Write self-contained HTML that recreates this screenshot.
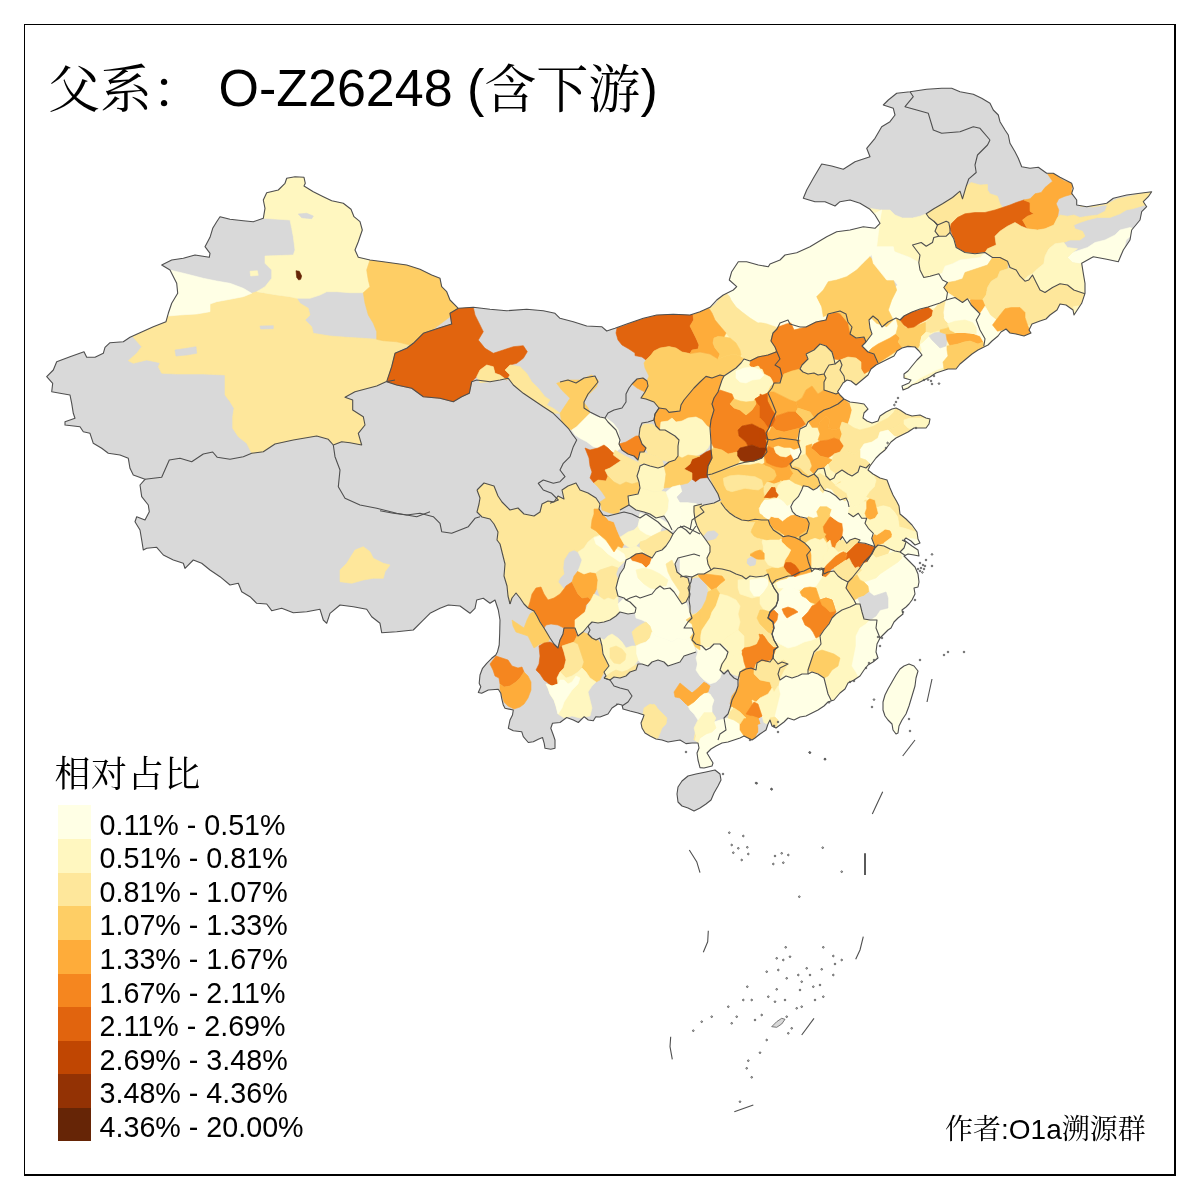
<!DOCTYPE html>
<html lang="zh"><head><meta charset="utf-8"><title>父系 O-Z26248</title>
<style>
html,body{margin:0;padding:0;background:#fff;}
body{width:1200px;height:1200px;position:relative;overflow:hidden;font-family:"Liberation Sans","Noto Serif CJK SC",sans-serif;color:#000;}
.frame{position:absolute;left:24px;top:24px;width:1149px;height:1149px;border-left:1px solid #000;border-top:1px solid #000;border-right:2px solid #000;border-bottom:2px solid #000;box-sizing:content-box;}
.title{position:absolute;left:48px;top:54px;font-size:52px;line-height:60px;white-space:pre;}
.title .cj{font-family:"Noto Serif CJK SC",serif;position:relative;top:2px;}
.lt{position:absolute;left:54.5px;top:750px;font-size:36px;letter-spacing:0.6px;line-height:44px;font-family:"Noto Serif CJK SC",serif;white-space:pre;}
.sw{position:absolute;left:58px;width:33px;}
.ll{position:absolute;left:99.5px;font-size:28.7px;margin-top:3.5px;line-height:33.6px;height:33.6px;white-space:pre;}
.au{position:absolute;left:945px;top:1107px;font-size:28px;line-height:40px;white-space:pre;}
.au .cj{font-family:"Noto Serif CJK SC",serif;}
</style></head><body>
<svg width="1200" height="1200" viewBox="0 0 1200 1200" style="position:absolute;left:0;top:0">
<defs><clipPath id="cn">
<polygon points="143.3,550 141.7,540 140,530 135,521.7 136.7,516.7 145,520 149.3,511.7 148.3,505 141.7,496.7 140,485 145,479.3 133.3,475 130,468.3 128.3,458.3 120,455 108.3,453.3 101.7,448.3 93.3,443.3 90,433.3 83.3,431.7 80,426.7 65,425 65,421.7 75,418.3 73.3,413.3 71.7,403.3 70,395 60,393.3 51.7,391.7 52.7,383.3 46.7,376.7 53.3,370 56.7,361.7 70,356.7 84,351.7 86.7,357.3 95,357.3 103.3,353.3 105,347.3 110,342.7 123.3,341.7 130,337.3 140,332.7 153.3,326.7 166,321.7 168.3,313.3 171.7,303.3 177.7,293.3 176.7,283.3 170,270 161.7,265 171.7,260 183.3,258.3 195,255 209.3,257.3 210,253.3 205,246.7 210,237.3 212.7,228.3 216.7,221.7 220,216.7 230,219.3 243.3,220.7 253.3,221.7 263.3,218.3 265,208.3 263.3,200 266.7,192.7 278.3,190 285,183.3 286.7,178.3 295,176.7 304,177.3 305.3,183.3 304,186 313.3,191.7 323.3,196.7 331.7,200.7 343.3,203.3 351,209.3 354,216.7 360,221.7 362.3,230 358.3,241.7 355,250 358.3,257.3 370,260 383.3,261.7 406.7,265 420,269.3 431.7,275 440,278.3 441.7,286.7 446.7,291.7 450,300 458.3,308.3 473.3,307.3 490,309.3 506.7,310.7 526.7,309.3 543.3,310.7 555,313.3 560,318.3 573.3,321.7 586.7,326 601.7,326.7 606.7,331 615,328.3 626.7,324 643.3,318.3 656.7,315 673.3,314.3 690,315 700,311.7 710,307.3 716.7,300 723.3,295 733.3,290 736.7,286.7 729.3,280 731.7,271.7 738.3,261.7 746.7,261.7 758.3,265 768.3,266.7 770,264 780,260 785,255 796.7,252.7 810,246.7 818.3,241.7 826.7,236.7 836.7,231.7 850,230 863.3,226.7 875,228.3 880,223.3 875,215 870,209.3 860,203.3 850,200 840,201.7 835,206 825,201.7 815,201.7 803.3,198.3 806.7,190 813.3,178.3 821.7,164 831.7,166 843.3,169.3 855,161.7 870,156.7 866.7,148.3 875,138.3 881.7,126.7 890,121.7 895,115 893.3,108.3 883.3,105 888.3,100 896.7,93.3 910,91.7 926.7,89.3 941.7,88.3 951.7,88.3 960,91.7 973.3,94.3 981.7,98.3 990,103.3 993.3,110 998.3,115 1000,121.7 1005,130 1008.3,135 1010,143.3 1015,151.7 1018.3,158.3 1021.7,166.7 1030,168.3 1038.3,167.3 1046.7,173.3 1053.3,173.3 1060,177.3 1071.7,183.3 1073.3,188.3 1071.7,193.3 1076.7,200 1076.7,205 1086.7,206.7 1106.7,203.3 1113.3,198.3 1126.7,195 1140,193.3 1151.7,191.7 1148.3,196.7 1143.3,201.7 1146.7,206.7 1141.7,211.7 1140,220 1131.7,230 1130,240 1123.3,250 1118.3,261.7 1106.7,259.3 1093.3,256.7 1081.7,263.3 1083.3,273.3 1085,283.3 1085,293.3 1081.7,303.3 1074,315 1073,310 1066,305 1060,304 1057,310 1050,315 1046,319 1040,321 1032,324 1029,330 1031,333 1024,336 1016,334 1010,333 1006,329 1001,332 998,336 992,341 988,345 984,347 978,350 972,354 966,359 960,364 956,369 948,369 942,371 936,373 930,377 924,380 918,383 912,385 908,388 903,390 902,386 909,383 911,380 904,378 904,374 908,371 912,366 917,360 922,355 919,351 915,347 908,346.4 902,348 897,351 894,356 888,359 882,362 876,365 871,369 868,375 862,380 856,385 851,381 847,380 843,383 840,388 837.6,391.6 840,395 844,399 850,402 858,403 864,404 868,409 864,413 863,418 867,421 872,423 878,421 880,416 886,412 892,409 896,408 900,410 906,414 912,416 920,415 926,418 930,419 929,424 926,428 920,428 914,428 908,432 902,435 896,438 891,442 888,446 885,450 880,454 876,458 873,462 870,466 868,470 873,474 880,478 887,480 890,488 893,495 897,502 899,506 900,514 906,519 912,525 917,532 918,539 920,543 915,545 911,541 906,538 904,540 912,546 918,550 919,556 914,555 908,554 904,556 909,561 915,567 918,574 919,582 918,587 914,588 915,594 912,600 909,604 906,607 902,610 903,614 898,618 894,622 891,628 888,630 884,634 880,638 877,644 876,652 878,658 873,662 868,665 864,670 860,676 854,680 848,683 845,689 840,693 834,700 828,702 824,706 818,710 812,713 806,716 800,717 794,720 788,718 784,722 780,725 776,728 772,726 770,720 768,724 766,730 760,734 755,738 752,740 748,738 744,736 740,738 734,740 728,742 722,743 716,746 711,749 707,753 710,758 713,763 712,766 704,768 700,767.6 698,760 697,753 699,748 698,743 692,743 686,743.6 680,740 674,741 668,742 662,740 656,739 650,736 645,733 642,728 641,723 643,718 644,715 638,713 630,711 623,709 622,705 618,704 612,708 608,714 600,717 595.8,716.7 593.3,720.8 588.3,720 584.2,716.7 578.3,722.5 573.3,720 566.7,717.5 560,722.5 552.5,723.3 550.8,728.3 553.3,735 555,740 555,748.3 550.8,749.2 545,748.3 544.2,743.3 542.5,737.5 538.3,739.2 533.3,741.7 528.3,742.5 523.3,736.7 521.7,731.7 513.3,730.8 508.3,728.3 510,720 512.5,715 513.3,710 505,708.3 503.3,705 501.7,698.3 500.8,693.3 498.3,689.2 488.3,690 481.7,693.3 478.3,692.5 480.8,686.7 479.2,683.3 480,675 482.5,668.3 486.7,663.3 491.7,658.3 495.8,655 497.5,651.7 499.2,645 499.7,633.3 500,620 498.3,610 495,600 490,603.3 483.3,598.3 476.7,600 475,608.3 470,613.3 460,606 448.3,605 440,608.3 430,613.3 421.7,621.7 413.3,630 396.7,631.7 381.7,632.7 380,623.3 371.7,616.7 366.7,609.3 353.3,606.7 340,605 330,613.3 326.7,623.3 323.3,620 320,609.3 306.7,611.7 293.3,612.7 281.7,608.3 271.7,610.7 266.7,604 256.7,603.3 250,596.7 241.7,591.7 238.3,583.3 230,585 220,576.7 210,570 201.7,563.3 193.3,560 185,568.3 183.3,563.3 173.3,560 163.3,555 156.7,547.3 146.7,548.3"/>
<polygon points="678,787 682,781 688,776 696,774 706,772 715,770 720,774 721,780 718,786 714,793 711,800 706,804 700,808 694,811 688,808 682,806 678,802 677,794"/>
<polygon points="909,664 914,666 918,671 916,678 915,686 912,696 909,706 906,714 902,720 899,726 898,733 896,734 893,730 892,724 888,720 885,716 883,710 883,702 885,695 888,689 892,682 896,675 900,669 904,666"/>
</clipPath></defs>
<g fill="#D9D9D9" stroke="none">
<polygon points="143.3,550 141.7,540 140,530 135,521.7 136.7,516.7 145,520 149.3,511.7 148.3,505 141.7,496.7 140,485 145,479.3 133.3,475 130,468.3 128.3,458.3 120,455 108.3,453.3 101.7,448.3 93.3,443.3 90,433.3 83.3,431.7 80,426.7 65,425 65,421.7 75,418.3 73.3,413.3 71.7,403.3 70,395 60,393.3 51.7,391.7 52.7,383.3 46.7,376.7 53.3,370 56.7,361.7 70,356.7 84,351.7 86.7,357.3 95,357.3 103.3,353.3 105,347.3 110,342.7 123.3,341.7 130,337.3 140,332.7 153.3,326.7 166,321.7 168.3,313.3 171.7,303.3 177.7,293.3 176.7,283.3 170,270 161.7,265 171.7,260 183.3,258.3 195,255 209.3,257.3 210,253.3 205,246.7 210,237.3 212.7,228.3 216.7,221.7 220,216.7 230,219.3 243.3,220.7 253.3,221.7 263.3,218.3 265,208.3 263.3,200 266.7,192.7 278.3,190 285,183.3 286.7,178.3 295,176.7 304,177.3 305.3,183.3 304,186 313.3,191.7 323.3,196.7 331.7,200.7 343.3,203.3 351,209.3 354,216.7 360,221.7 362.3,230 358.3,241.7 355,250 358.3,257.3 370,260 383.3,261.7 406.7,265 420,269.3 431.7,275 440,278.3 441.7,286.7 446.7,291.7 450,300 458.3,308.3 473.3,307.3 490,309.3 506.7,310.7 526.7,309.3 543.3,310.7 555,313.3 560,318.3 573.3,321.7 586.7,326 601.7,326.7 606.7,331 615,328.3 626.7,324 643.3,318.3 656.7,315 673.3,314.3 690,315 700,311.7 710,307.3 716.7,300 723.3,295 733.3,290 736.7,286.7 729.3,280 731.7,271.7 738.3,261.7 746.7,261.7 758.3,265 768.3,266.7 770,264 780,260 785,255 796.7,252.7 810,246.7 818.3,241.7 826.7,236.7 836.7,231.7 850,230 863.3,226.7 875,228.3 880,223.3 875,215 870,209.3 860,203.3 850,200 840,201.7 835,206 825,201.7 815,201.7 803.3,198.3 806.7,190 813.3,178.3 821.7,164 831.7,166 843.3,169.3 855,161.7 870,156.7 866.7,148.3 875,138.3 881.7,126.7 890,121.7 895,115 893.3,108.3 883.3,105 888.3,100 896.7,93.3 910,91.7 926.7,89.3 941.7,88.3 951.7,88.3 960,91.7 973.3,94.3 981.7,98.3 990,103.3 993.3,110 998.3,115 1000,121.7 1005,130 1008.3,135 1010,143.3 1015,151.7 1018.3,158.3 1021.7,166.7 1030,168.3 1038.3,167.3 1046.7,173.3 1053.3,173.3 1060,177.3 1071.7,183.3 1073.3,188.3 1071.7,193.3 1076.7,200 1076.7,205 1086.7,206.7 1106.7,203.3 1113.3,198.3 1126.7,195 1140,193.3 1151.7,191.7 1148.3,196.7 1143.3,201.7 1146.7,206.7 1141.7,211.7 1140,220 1131.7,230 1130,240 1123.3,250 1118.3,261.7 1106.7,259.3 1093.3,256.7 1081.7,263.3 1083.3,273.3 1085,283.3 1085,293.3 1081.7,303.3 1074,315 1073,310 1066,305 1060,304 1057,310 1050,315 1046,319 1040,321 1032,324 1029,330 1031,333 1024,336 1016,334 1010,333 1006,329 1001,332 998,336 992,341 988,345 984,347 978,350 972,354 966,359 960,364 956,369 948,369 942,371 936,373 930,377 924,380 918,383 912,385 908,388 903,390 902,386 909,383 911,380 904,378 904,374 908,371 912,366 917,360 922,355 919,351 915,347 908,346.4 902,348 897,351 894,356 888,359 882,362 876,365 871,369 868,375 862,380 856,385 851,381 847,380 843,383 840,388 837.6,391.6 840,395 844,399 850,402 858,403 864,404 868,409 864,413 863,418 867,421 872,423 878,421 880,416 886,412 892,409 896,408 900,410 906,414 912,416 920,415 926,418 930,419 929,424 926,428 920,428 914,428 908,432 902,435 896,438 891,442 888,446 885,450 880,454 876,458 873,462 870,466 868,470 873,474 880,478 887,480 890,488 893,495 897,502 899,506 900,514 906,519 912,525 917,532 918,539 920,543 915,545 911,541 906,538 904,540 912,546 918,550 919,556 914,555 908,554 904,556 909,561 915,567 918,574 919,582 918,587 914,588 915,594 912,600 909,604 906,607 902,610 903,614 898,618 894,622 891,628 888,630 884,634 880,638 877,644 876,652 878,658 873,662 868,665 864,670 860,676 854,680 848,683 845,689 840,693 834,700 828,702 824,706 818,710 812,713 806,716 800,717 794,720 788,718 784,722 780,725 776,728 772,726 770,720 768,724 766,730 760,734 755,738 752,740 748,738 744,736 740,738 734,740 728,742 722,743 716,746 711,749 707,753 710,758 713,763 712,766 704,768 700,767.6 698,760 697,753 699,748 698,743 692,743 686,743.6 680,740 674,741 668,742 662,740 656,739 650,736 645,733 642,728 641,723 643,718 644,715 638,713 630,711 623,709 622,705 618,704 612,708 608,714 600,717 595.8,716.7 593.3,720.8 588.3,720 584.2,716.7 578.3,722.5 573.3,720 566.7,717.5 560,722.5 552.5,723.3 550.8,728.3 553.3,735 555,740 555,748.3 550.8,749.2 545,748.3 544.2,743.3 542.5,737.5 538.3,739.2 533.3,741.7 528.3,742.5 523.3,736.7 521.7,731.7 513.3,730.8 508.3,728.3 510,720 512.5,715 513.3,710 505,708.3 503.3,705 501.7,698.3 500.8,693.3 498.3,689.2 488.3,690 481.7,693.3 478.3,692.5 480.8,686.7 479.2,683.3 480,675 482.5,668.3 486.7,663.3 491.7,658.3 495.8,655 497.5,651.7 499.2,645 499.7,633.3 500,620 498.3,610 495,600 490,603.3 483.3,598.3 476.7,600 475,608.3 470,613.3 460,606 448.3,605 440,608.3 430,613.3 421.7,621.7 413.3,630 396.7,631.7 381.7,632.7 380,623.3 371.7,616.7 366.7,609.3 353.3,606.7 340,605 330,613.3 326.7,623.3 323.3,620 320,609.3 306.7,611.7 293.3,612.7 281.7,608.3 271.7,610.7 266.7,604 256.7,603.3 250,596.7 241.7,591.7 238.3,583.3 230,585 220,576.7 210,570 201.7,563.3 193.3,560 185,568.3 183.3,563.3 173.3,560 163.3,555 156.7,547.3 146.7,548.3"/>
<polygon points="678,787 682,781 688,776 696,774 706,772 715,770 720,774 721,780 718,786 714,793 711,800 706,804 700,808 694,811 688,808 682,806 678,802 677,794"/>
<polygon points="909,664 914,666 918,671 916,678 915,686 912,696 909,706 906,714 902,720 899,726 898,733 896,734 893,730 892,724 888,720 885,716 883,710 883,702 885,695 888,689 892,682 896,675 900,669 904,666"/>
</g>
<g clip-path="url(#cn)" stroke="none">
<polygon fill="#FFF7C0" stroke="#FFF7C0" stroke-width="0.6" points="715,340 760,300 1100,300 1100,420 930,560 930,600 870,600 850,520 790,520 780,505 725,505 718,480 710,440 712,400"/>
<polygon fill="#FFFFE5" stroke="#FFFFE5" stroke-width="0.6" points="909,664 914,666 918,671 916,678 915,686 912,696 909,706 906,714 902,720 899,726 898,733 896,734 893,730 892,724 888,720 885,716 883,710 883,702 885,695 888,689 892,682 896,675 900,669 904,666"/>
<polygon fill="#FEE79B" stroke="#FEE79B" stroke-width="0.6" points="168.3,316 180,315 196.7,314 210,311.7 210,304 216.7,301.7 230,299.3 243.3,296.7 251.7,293.3 256.7,291.7 263.3,292.7 276.7,295 290,296.7 296.7,298.3 300,303.3 308.3,308.3 310,315 305,320 311.7,326.7 313.3,333.3 330,336 346.7,337.3 363.3,338.3 376.7,339.3 383.3,340.7 396.7,341.7 410,345 396.7,351.7 393.3,363.3 390,373.3 386,381.7 376.7,386 355,391.7 345,397.3 352.7,400 352.7,410 363.3,416.7 365,425 358.3,433.3 361.7,445 350,442.7 341.7,441.7 333.3,445 328.3,439.3 316.7,436 293.3,440 275,444 263.3,451.7 251.7,453.3 246.7,443.3 238.3,436.7 232.7,428.3 232.7,416.7 234,408.3 230,401.7 225,395 225,375 203.3,374 176.7,374 161.7,373.3 158.3,366.7 160,362.7 146.7,360 133.3,363.3 128.3,360.7 136.7,353.3 141.7,346.7 133.3,337.3 130,330 153.3,320 163.3,316.7"/>
<polygon fill="#D9D9D9" stroke="#D9D9D9" stroke-width="0.6" points="175,350 186.7,348.3 196,346.7 196.7,353.3 186.7,355 176,356"/>
<polygon fill="#D9D9D9" stroke="#D9D9D9" stroke-width="0.6" points="260,326 273.3,325.7 273.3,328.7 260.7,329"/>
<polygon fill="#FFF7C0" stroke="#FFF7C0" stroke-width="0.6" points="286.7,173.3 306.7,173.3 363.3,216.7 366.7,230 360,250 370,260 366.7,270 368.3,280 370,286.7 363.3,292.7 350,292.7 336.7,291.7 326.7,291.7 320,295 310,298.3 296.7,298.3 290,296.7 276.7,295 263.3,292.7 256.7,291.7 265,286.7 271.7,278.3 271.7,270 265,263.3 265,256 293.3,255 295,250 293.3,236.7 291.7,228.3 290,220 263.3,218.3 260,200 263.3,190"/>
<polygon fill="#D9D9D9" stroke="#D9D9D9" stroke-width="0.6" points="298.3,214 306.7,213.3 313.3,216 311.7,218.7 301.7,217.7"/>
<polygon fill="#662506" stroke="#662506" stroke-width="0.6" points="296,270.7 299.3,271.3 301.7,276 300.7,279.3 298.7,280 296.7,277.3"/>
<polygon fill="#FFF7C0" stroke="#FFF7C0" stroke-width="0.6" points="250,271.3 257.3,270.7 258.3,275.3 250.7,276"/>
<polygon fill="#FFFFE5" stroke="#FFFFE5" stroke-width="0.6" points="156.7,266.7 170,270 186.7,274 203.3,278.3 216.7,281 230,283.3 243.3,288.3 251.7,293.3 243.3,296.7 230,299.3 216.7,301.7 210,304 210,311.7 196.7,314 180,315 168.3,316 156.7,323.3"/>
<polygon fill="#FECE65" stroke="#FECE65" stroke-width="0.6" points="370,260 366.7,270 368.3,280 370,286.7 363.3,292.7 365,303.3 368.3,315 373.3,323.3 376.7,331.7 376.7,339.3 383.3,340.7 396.7,341.7 410,345 418.3,338.3 430,331.7 450,316.7 463.3,310 473.3,300 473.3,250 396.7,250"/>
<polygon fill="#E1640E" stroke="#E1640E" stroke-width="0.6" points="458.3,308.3 473.3,307.3 475,315 480,325 483.3,331.7 478.3,340 485,348.3 493.3,353.3 503.3,350 513.3,346.7 523.3,345.7 527.3,351.7 523.3,358.3 516.7,363.3 510,365 505,370 510,375 506.7,380 500,375 495,373.3 493.3,366.7 486.7,365 480,370 476.7,376.7 471.7,381.7 469.3,393.3 461.7,396.7 453.3,401.7 440,398.3 423.3,396.7 411.7,388.3 396.7,385 386.7,381.7 391.7,366.7 395,353.3 406.7,348.3 413.3,343.3 423.3,333.3 438.3,328.3 451.7,324 450,313.3"/>
<polygon fill="#FEE79B" stroke="#FEE79B" stroke-width="0.6" points="476.7,376.7 480,370 486.7,365 493.3,366.7 495,373.3 500,375 506.7,380 510,375 505,370 510,365 520,366.7 526.7,373.3 531.7,381.7 538.3,388.3 545,396.7 550,400 546.7,405 553.3,408.3 560,413.3 553.3,413.3 543.3,406.7 533.3,400 523.3,393.3 513.3,385 508.3,378.3 500,380 490,381.7 480,382.7"/>
<polygon fill="#FECE65" stroke="#FECE65" stroke-width="0.6" points="556.7,383.3 566.7,380 580,380 591.7,375 598.3,380 596.7,386.7 588.3,395 583.3,401.7 588.3,408.3 590,413.3 583.3,420 576.7,426.7 571.7,430 568.3,428.3 561.7,421.7 560,413.3 566.7,403.3 570,398.3 561.7,390"/>
<polygon fill="#FFFFE5" stroke="#FFFFE5" stroke-width="0.6" points="571.7,430 576.7,426.7 583.3,420 590,413.3 596.7,416.7 606.7,418.3 613.3,423.3 618.3,430 620,440 620.7,448.3 613.3,453.3 606.7,446.7 600,448.3 593.3,446.7 586.7,441.7 580,438.3 575,435"/>
<polygon fill="#FFFFE5" stroke="#FFFFE5" stroke-width="0.6" points="728,293 734,290 800,290 800,327 790,324 788,320 780,320 776,320 766,322 758,323 750,318 742,312 736,307 731,300"/>
<polygon fill="#FEE79B" stroke="#FEE79B" stroke-width="0.6" points="709,308.4 715,304.4 720,298 728,293 731,300 736,307 742,312 750,318 758,323 766,322 776,320 780,323 777,329 773,333 771,341 775,347 776,352 768,355 758,357 750,361 744,359 741,355 740,350 736,343 730,338 726,333 720,326 715,320 712,313"/>
<polygon fill="#E1640E" stroke="#E1640E" stroke-width="0.6" points="617,328 626,325 636,321 646,318 658,315 670,314.4 682,314 693,314.4 693.6,320 690,326 693,332 696,338 699,345 698,349 692,350 690,353.6 682,352 676,348 669,346.6 660,348 654,351 651,355 646,360 642,357 635,355.6 635,353 629,349 622,345 618,340 616,333"/>
<polygon fill="#FECE65" stroke="#FECE65" stroke-width="0.6" points="646,360 651,355 654,351 660,348 669,346.6 676,348 682,352 690,353.6 700,352 710,354 718,359 726,356 734,354 740,356 744,359 741,363 736,368 730,372 724,376 720,375 712,378 706,376.4 700,382 694,388 689,394 684,400 681,405 680,411 669,412.4 666,409 659,408 654,402 646,399 641,398 645,392 648,386 647,381 649,376 645,368 644,363"/>
<polygon fill="#FEAC3A" stroke="#FEAC3A" stroke-width="0.6" points="724,376 720,375 712,378 706,376.4 700,382 694,388 689,394 684,400 681,405 680,411 669,412.4 666,409 659,408 655,414 654,420 656,426 660,430 661,422 668,421 672,418 676,422 682,421 688,418 696,417 702,420 707,426 710,428 711,420 714,410 712,404 714,398 718,392 720,386 722,380"/>
<polygon fill="#FEAC3A" stroke="#FEAC3A" stroke-width="0.6" points="693,314.4 700,311 709,308.4 712,313 715,320 720,326 726,333 724,337 718,336.4 714,338 713,343 715,348 720,354 718,359 710,354 700,352 690,353.6 692,350 698,349 699,345 696,338 693,332 690,326 693.6,320"/>
<polygon fill="#FECE65" stroke="#FECE65" stroke-width="0.6" points="714,338 718,336.4 724,337 730,338 736,343 740,350 741,355 740,356 734,354 726,356 718,359 720,354 715,348 713,343"/>
<polygon fill="#F5861F" stroke="#F5861F" stroke-width="0.6" points="780,323 788,320 790,324 800,327 800,370 792,371 784,373 780,368 775,365 780,359 777,352 775,347 771,341 773,333 777,329"/>
<polygon fill="#F5861F" stroke="#F5861F" stroke-width="0.6" points="750,361 758,357 768,355 776,352 777,352 780,359 775,365 780,368 782,376 780,383 774,383 770,377 764,374 762,369 758,366 752,368 749,365"/>
<polygon fill="#FFF7C0" stroke="#FFF7C0" stroke-width="0.6" points="744,359 750,361 749,365 752,368 758,366 762,369 764,374 770,377 774,383 772,388 768,393 760,396 754,401 746,402 740,401 734,399 732,394 726,392 720,390 722,380 724,376 730,372 736,368 741,363"/>
<polygon fill="#FFFFE5" stroke="#FFFFE5" stroke-width="0.6" points="736,371 744,368 752,367 760,370 764,375 760,379 752,380 746,383 740,382 736,378"/>
<polygon fill="#F5861F" stroke="#F5861F" stroke-width="0.6" points="720,390 726,392 732,394 734,399 730,404 734,408 740,410 746,415 752,410 756,404 755,399 760,396 768,393 772,402 776,412 772,420 769,428 766,433 760,428 752,424 742,426 738,430 739,436 746,442 748,446 740,448 737,452 728,454 722,450 714,448 711,442 710,428 711,420 714,410 712,404 714,398 718,392"/>
<polygon fill="#FECE65" stroke="#FECE65" stroke-width="0.6" points="734,399 740,401 746,402 754,401 755,399 756,404 752,410 746,415 740,410 734,408 730,404"/>
<polygon fill="#E1640E" stroke="#E1640E" stroke-width="0.6" points="760,396 764,395 768,393 772,402 774,410 768,412 762,408 758,404 755,399"/>
<polygon fill="#C04602" stroke="#C04602" stroke-width="0.6" points="738,430 742,426 752,424 760,428 766,433 768,440 766,447 760,448 752,445 748,446 746,442 739,436"/>
<polygon fill="#933204" stroke="#933204" stroke-width="0.6" points="737,452 740,448 748,446 752,445 760,448 766,447 767,452 762,458 754,461 746,462 740,460 737,456"/>
<polygon fill="#FECE65" stroke="#FECE65" stroke-width="0.6" points="711,450 714,448 722,450 728,454 737,452 737,456 740,460 738,464 730,467 720,471 712,474 707,475 708,466 712,458"/>
<polygon fill="#FFF7C0" stroke="#FFF7C0" stroke-width="0.6" points="661,422 668,421 672,418 676,422 682,421 688,418 696,417 702,420 707,426 710,428 711,442 708,448 704,452 696,456 688,455 682,458 678,456 678,446 679,440 675,436 670,433 665,430 660,430"/>
<polygon fill="#C04602" stroke="#C04602" stroke-width="0.6" points="711,450 712,458 708,466 707,475 708,478 700,479 696,482 692,479 692,473 684,469 690,464 692,459 700,456 706,452"/>
<polygon fill="#FEE79B" stroke="#FEE79B" stroke-width="0.6" points="640,428 644,424 652,424 660,430 665,430 670,433 675,436 679,440 678,446 678,456 675,460 669,462 662,460 656,456 648,454 646,448 642,444 639,436"/>
<polygon fill="#F5861F" stroke="#F5861F" stroke-width="0.6" points="619,444 626,442 636,436 639,436 642,444 646,448 644,452 640,452 638,460 634,456 628,454 622,450"/>
<polygon fill="#E1640E" stroke="#E1640E" stroke-width="0.6" points="585,448 590,450 598,448 604,445 608,448 612,452 618,456 622,460 616,464 610,468 605,470 608,476 606,481 598,480 594,483 590,478 592,472 590,466 589,458"/>
<polygon fill="#FEAC3A" stroke="#FEAC3A" stroke-width="0.6" points="632,384 637,379 643,378 647,381 648,386 645,392 641,390 637,388"/>
<polygon fill="#FEE79B" stroke="#FEE79B" stroke-width="0.6" points="610,468 616,464 622,460 628,462 634,464 640,464 639,470 637,476 639,482 632,484 626,482 620,485 614,482 608,476 605,470"/>
<polygon fill="#FECE65" stroke="#FECE65" stroke-width="0.6" points="594,483 598,480 606,481 608,476 614,482 620,485 626,482 632,484 639,482 640,488 638,494 628,496 629,505 620,510 618,514 610,513 602,510 600,502 606,498 602,492 598,487"/>
<polygon fill="#FEE79B" stroke="#FEE79B" stroke-width="0.6" points="640,452 644,452 648,454 656,456 662,460 664,466 658,468 650,466 644,464 640,464 638,460"/>
<polygon fill="#FFF7C0" stroke="#FFF7C0" stroke-width="0.6" points="640,466 644,464 650,466 658,468 664,466 666,474 665,482 664,488 661,491 654,492 648,490 640,488 639,482 637,476 639,470"/>
<polygon fill="#FECE65" stroke="#FECE65" stroke-width="0.6" points="664,466 669,462 675,460 678,456 682,458 688,455 696,456 700,456 692,459 690,464 684,469 692,473 692,479 688,483 680,485 672,487 664,488 665,482 666,474"/>
<polygon fill="#FFF7C0" stroke="#FFF7C0" stroke-width="0.6" points="628,496 638,494 640,488 648,490 654,492 661,491 666,492 669,500 668,510 664,516 656,518 650,514 644,512 636,510 629,505"/>
<polygon fill="#FFFFE5" stroke="#FFFFE5" stroke-width="0.6" points="666,492 672,487 680,485 682,492 677,497 680,502 688,502 696,503 700,507 704,512 698,516 692,520 690,530 672,530 668,522 664,516 668,510 669,500"/>
<polygon fill="#FFFFE5" stroke="#FFFFE5" stroke-width="0.6" points="760,290 826,290 816,296 818,302 822,308 828,314 826,320 816,322 806,327 794,330 790,321 780,324 772,320 760,321"/>
<polygon fill="#F5861F" stroke="#F5861F" stroke-width="0.6" points="772,336 780,324 790,321 794,330 806,327 816,322 826,320 828,314 840,311 846,314 848,322 852,327 850,334 856,338 864,337 866,342 862,346 868,352 874,354 878,363 874,367 869,371 864,374 861,369 861,362 856,358 848,357 840,360 834,359 832,352 826,346 820,344 814,350 806,354 808,359 802,365 800,369 792,371 784,374 780,382 774,384 771,374 766,370 760,368 760,358 768,356 774,354 778,348 774,342"/>
<polygon fill="#FEE79B" stroke="#FEE79B" stroke-width="0.6" points="806,354 814,350 820,344 826,346 832,352 834,359 835,364 829,365 826,370 824,374 818,375 814,373 808,374 803,372 800,369 802,365 808,359"/>
<polygon fill="#FEE79B" stroke="#FEE79B" stroke-width="0.6" points="835,364 840,360 842,365 840,370 844,376 845,382 840,388 840,392 836,394 830,392 824,390 824,382 826,378 824,374 826,370 829,365"/>
<polygon fill="#FEE79B" stroke="#FEE79B" stroke-width="0.6" points="840,360 848,357 856,358 861,362 861,369 864,374 868,376 864,380 858,383 854,386 850,381 845,382 844,376 840,370 842,365"/>
<polygon fill="#FECE65" stroke="#FECE65" stroke-width="0.6" points="816,296 826,290 892,290 890,298 888,306 892,312 896,318 890,320 884,324 878,320 873,316 869,320 870,328 872,334 866,342 864,337 856,338 850,334 852,327 848,322 846,314 840,311 828,314 822,308 818,302"/>
<polygon fill="#FFFFE5" stroke="#FFFFE5" stroke-width="0.6" points="892,290 948,290 948,296 940,302 934,308 928,307 920,309 912,312 904,316 900,320 896,318 892,312 888,306 890,298"/>
<polygon fill="#FFFFE5" stroke="#FFFFE5" stroke-width="0.6" points="869,320 873,316 878,320 882,327 888,322 896,318 900,320 898,326 896,334 890,338 884,341 878,344 872,348 868,352 862,346 866,342 872,334 870,328"/>
<polygon fill="#FEAC3A" stroke="#FEAC3A" stroke-width="0.6" points="872,348 878,344 884,341 890,338 896,334 900,338 898,342 902,347 898,350 892,354 886,358 880,362 878,363 874,354 868,352"/>
<polygon fill="#FECE65" stroke="#FECE65" stroke-width="0.6" points="896,318 900,320 906,328 916,326 926,322 926,332 922,336 920,344 918,348 914,347 908,346 902,347 898,342 900,338 896,334 898,326"/>
<polygon fill="#E1640E" stroke="#E1640E" stroke-width="0.6" points="900,320 904,316 912,312 920,309 928,307 933,311 932,316 926,320 920,323 914,327 908,328 904,325"/>
<polygon fill="#FEE79B" stroke="#FEE79B" stroke-width="0.6" points="933,311 940,302 948,296 949,302 946,310 944,318 950,322 948,328 940,330 930,333 926,332 926,322 932,316"/>
<polygon fill="#FFFFE5" stroke="#FFFFE5" stroke-width="0.6" points="948,296 968,300 972,308 976,316 972,322 964,330 956,326 950,322 944,318 946,310 949,302"/>
<polygon fill="#FFFFE5" stroke="#FFFFE5" stroke-width="0.6" points="920,344 922,336 929,336 932,340 936,344 940,348 946,346 947,350 948,356 943,362 944,367 936,370 928,374 920,378 912,384 900,390 900,384 908,378 904,374 910,368 916,362 920,356 922,350"/>
<polygon fill="#FFF7C0" stroke="#FFF7C0" stroke-width="0.6" points="922,336 926,332 930,333 929,336 926,339 923,342 920,344"/>
<polygon fill="#D9D9D9" stroke="#D9D9D9" stroke-width="0.6" points="929,336 934,333 940,332 946,334 947,340 946,346 940,348 936,344 932,340"/>
<polygon fill="#FEAC3A" stroke="#FEAC3A" stroke-width="0.6" points="948,334 956,333 964,330 972,333 980,336 983,342 978,344 970,341 964,342 958,344 950,346 947,340 946,334"/>
<polygon fill="#FECE65" stroke="#FECE65" stroke-width="0.6" points="940,330 948,328 950,322 956,326 964,330 956,333 948,334 946,334 940,332"/>
<polygon fill="#FECE65" stroke="#FECE65" stroke-width="0.6" points="947,346 958,344 964,342 970,341 978,344 983,342 986,348 976,356 968,360 960,366 952,370 944,369 943,362 948,356 947,350"/>
<polygon fill="#FFFFE5" stroke="#FFFFE5" stroke-width="0.6" points="972,308 968,300 970,290 984,290 1000,310 1000,340 985,344 980,336 972,333 964,330 972,322 976,316"/>
<polygon fill="#FEAC3A" stroke="#FEAC3A" stroke-width="0.6" points="970,298 978,297 984,302 986,310 980,314 976,308"/>
<polygon fill="#FECE65" stroke="#FECE65" stroke-width="0.6" points="784,374 792,371 800,369 803,372 808,374 814,373 818,375 824,374 826,378 824,382 824,390 818,394 812,386 806,390 802,398 796,402 790,400 782,396 774,392 768,392 771,386 774,384 780,382"/>
<polygon fill="#FEAC3A" stroke="#FEAC3A" stroke-width="0.6" points="812,386 818,394 824,390 830,392 836,394 840,392 844,399 838,404 830,408 824,410 818,414 814,418 810,412 804,410 798,408 796,402 802,398 806,390"/>
<polygon fill="#FEAC3A" stroke="#FEAC3A" stroke-width="0.6" points="768,392 774,392 782,396 790,400 796,402 798,408 796,412 788,412 782,414 776,416 772,410 768,402"/>
<polygon fill="#F5861F" stroke="#F5861F" stroke-width="0.6" points="776,416 782,414 788,412 796,412 802,418 806,424 800,428 792,430 784,432 776,430 772,426 775,420"/>
<polygon fill="#FEAC3A" stroke="#FEAC3A" stroke-width="0.6" points="768,434 772,426 776,430 784,432 792,430 800,428 799,434 796,440 788,439 780,438 772,440 766,439"/>
<polygon fill="#FECE65" stroke="#FECE65" stroke-width="0.6" points="798,408 804,410 810,412 814,418 808,422 806,424 802,418 796,412"/>
<polygon fill="#E1640E" stroke="#E1640E" stroke-width="0.6" points="760,394 764,396 768,402 772,410 775,414 775,420 772,426 768,428 764,422 760,418"/>
<polygon fill="#F5861F" stroke="#F5861F" stroke-width="0.6" points="760,418 764,422 768,428 768,434 766,439 764,430 760,428"/>
<polygon fill="#C04602" stroke="#C04602" stroke-width="0.6" points="760,428 764,430 767,438 768,444 764,448 760,448"/>
<polygon fill="#933204" stroke="#933204" stroke-width="0.6" points="760,448 764,448 766,452 764,456 760,457"/>
<polygon fill="#FEAC3A" stroke="#FEAC3A" stroke-width="0.6" points="818,414 824,410 830,408 838,404 844,399 850,404 852,410 850,418 848,424 842,422 840,428 834,430 828,428 830,420 826,416 820,422 818,428 812,428 808,422 814,418"/>
<polygon fill="#FFF7C0" stroke="#FFF7C0" stroke-width="0.6" points="800,429 806,426 808,422 812,428 818,428 820,434 818,440 812,444 806,446 800,448 798,442 799,434"/>
<polygon fill="#FEAC3A" stroke="#FEAC3A" stroke-width="0.6" points="820,422 826,416 830,420 828,428 834,430 840,428 842,434 840,440 834,438 828,440 820,441 818,440 820,434 818,428"/>
<polygon fill="#F5861F" stroke="#F5861F" stroke-width="0.6" points="814,444 820,441 828,440 834,438 840,440 844,446 840,452 834,454 828,458 820,456 816,452 811,448"/>
<polygon fill="#FFF7C0" stroke="#FFF7C0" stroke-width="0.6" points="850,404 856,402 862,404 868,408 869,412 864,414 862,418 868,422 872,424 868,428 860,430 854,428 848,424 850,418 852,410"/>
<polygon fill="#FEE79B" stroke="#FEE79B" stroke-width="0.6" points="840,428 842,422 848,424 854,428 860,430 868,428 874,426 880,422 888,418 894,412 900,414 904,420 900,424 894,428 888,430 880,432 878,438 872,442 864,444 860,450 854,454 848,452 844,446 840,440 842,434"/>
<polygon fill="#FEE79B" stroke="#FEE79B" stroke-width="0.6" points="894,412 896,408 904,411 912,415 920,416 930,418 929,424 926,428 920,427 914,430 908,432 904,436 900,438 894,436 888,430 894,428 900,424 904,420 900,414"/>
<polygon fill="#FFF7C0" stroke="#FFF7C0" stroke-width="0.6" points="904,420 910,418 920,418 930,418 929,424 926,428 920,427 914,430 908,428 904,424"/>
<polygon fill="#FFFFE5" stroke="#FFFFE5" stroke-width="0.6" points="878,438 880,432 888,430 894,436 900,438 896,444 890,448 884,448 880,454 876,458 870,464 866,460 860,458 860,450 864,444 872,442"/>
<polygon fill="#FEE79B" stroke="#FEE79B" stroke-width="0.6" points="840,452 844,446 848,452 854,454 860,450 860,458 866,460 870,464 866,468 860,466 858,472 852,476 848,474 842,470 836,474 830,470 828,464 832,460 834,454"/>
<polygon fill="#FEE79B" stroke="#FEE79B" stroke-width="0.6" points="790,464 794,460 798,458 800,456 806,454 810,460 812,466 810,470 814,474 808,477 802,474 798,470 792,468"/>
<polygon fill="#FEAC3A" stroke="#FEAC3A" stroke-width="0.6" points="806,454 806,446 812,444 811,448 816,452 820,456 828,458 832,460 828,464 824,468 818,469 814,474 810,470 812,466 810,460"/>
<polygon fill="#FFF7C0" stroke="#FFF7C0" stroke-width="0.6" points="824,468 828,464 830,470 836,474 834,478 830,480 826,476"/>
<polygon fill="#FEAC3A" stroke="#FEAC3A" stroke-width="0.6" points="766,439 772,440 780,438 788,439 796,440 800,440 799,444 800,448 794,450 790,448 786,450 782,448 776,446 772,448 768,446"/>
<polygon fill="#F5861F" stroke="#F5861F" stroke-width="0.6" points="764,456 768,446 772,448 774,448 776,453 780,456 786,457 791,454 794,460 790,464 784,466 778,468 772,466 766,462"/>
<polygon fill="#FFF7C0" stroke="#FFF7C0" stroke-width="0.6" points="774,448 778,446 784,448 790,448 791,454 786,457 780,456 776,453"/>
<polygon fill="#FFFFE5" stroke="#FFFFE5" stroke-width="0.6" points="790,448 794,450 800,448 801,452 798,458 794,460 791,454"/>
<polygon fill="#FEAC3A" stroke="#FEAC3A" stroke-width="0.6" points="778,468 784,466 790,464 792,468 798,470 802,474 800,480 794,482 788,480 782,478 778,474"/>
<polygon fill="#FEAC3A" stroke="#FEAC3A" stroke-width="0.6" points="760,466 766,462 772,466 778,468 778,474 782,478 780,482 774,484 768,482 760,480"/>
<polygon fill="#FECE65" stroke="#FECE65" stroke-width="0.6" points="800,480 802,474 808,477 814,474 818,478 820,484 816,488 810,490 804,488 800,485"/>
<polygon fill="#FEE79B" stroke="#FEE79B" stroke-width="0.6" points="760,480 768,482 774,484 780,482 782,478 788,480 794,482 800,480 800,485 803,488 800,494 796,502 790,506 784,510 778,512 772,516 760,516"/>
<polygon fill="#FFF7C0" stroke="#FFF7C0" stroke-width="0.6" points="782,482 788,480 794,482 800,480 800,485 803,488 800,494 796,502 790,506 784,508 780,502 782,494 780,488"/>
<polygon fill="#E1640E" stroke="#E1640E" stroke-width="0.6" points="772,487 775,490 777,494 779,497 774,497 770,498 765,497 768,493 770,490"/>
<polygon fill="#FEAC3A" stroke="#FEAC3A" stroke-width="0.6" points="772,516 778,512 784,510 790,506 794,512 798,516 802,514 808,516 808,524 810,530 760,530 760,516"/>
<polygon fill="#FFFFE5" stroke="#FFFFE5" stroke-width="0.6" points="790,506 796,502 800,494 803,488 804,488 810,490 816,488 820,484 824,490 830,492 836,496 840,500 846,498 848,502 850,508 846,510 840,512 834,510 828,512 820,510 814,514 808,516 802,514 798,516 794,512"/>
<polygon fill="#FFF7C0" stroke="#FFF7C0" stroke-width="0.6" points="820,484 818,478 814,474 818,469 824,468 826,476 830,480 834,478 836,474 842,470 848,474 846,484 840,482 832,488 826,486 824,490"/>
<polygon fill="#FECE65" stroke="#FECE65" stroke-width="0.6" points="826,486 832,488 840,482 846,484 850,490 848,492 846,498 840,500 836,496 830,492 824,490"/>
<polygon fill="#FFF7C0" stroke="#FFF7C0" stroke-width="0.6" points="848,474 852,476 858,472 860,466 866,468 872,470 880,476 884,480 878,482 872,486 866,490 860,488 856,492 850,490 846,484"/>
<polygon fill="#FEE79B" stroke="#FEE79B" stroke-width="0.6" points="878,482 884,480 888,488 892,496 896,504 900,512 904,520 908,526 910,530 884,530 880,520 882,510 878,502 874,498 872,490 872,486"/>
<polygon fill="#FFF7C0" stroke="#FFF7C0" stroke-width="0.6" points="850,490 856,492 860,488 866,490 872,486 872,490 874,498 878,502 872,508 866,510 864,516 858,518 854,512 850,508 848,502 846,498 848,492"/>
<polygon fill="#FECE65" stroke="#FECE65" stroke-width="0.6" points="872,508 878,502 882,510 880,520 884,530 868,530 866,522 869,516 866,510"/>
<polygon fill="#FEAC3A" stroke="#FEAC3A" stroke-width="0.6" points="828,516 834,510 840,512 844,518 842,526 840,530 830,530 828,522"/>
<polygon fill="#FFF7C0" stroke="#FFF7C0" stroke-width="0.6" points="850,508 854,512 858,518 864,516 866,522 868,530 844,530 844,518 846,510"/>
<polygon fill="#FFF7C0" stroke="#FFF7C0" stroke-width="0.6" points="808,516 814,514 820,510 828,512 828,522 830,530 810,530 808,524"/>
<polygon fill="#FFF7C0" stroke="#FFF7C0" stroke-width="0.6" points="880,210 890,210 895,215 902.5,218 912.5,218 920,216.2 926.2,213.8 928.8,217.5 933.8,221.2 937.5,225 935,231.2 938.8,236.2 933.8,237.5 932.5,242.5 926.2,246.2 921.2,242.5 912.5,245 916.2,250 920,255 918.8,262.5 910,257.5 900,253.8 890,250 880,247.5 865,245 865,207.5"/>
<polygon fill="#FFFFE5" stroke="#FFFFE5" stroke-width="0.6" points="880,247.5 890,250 900,253.8 910,257.5 918.8,262.5 920,270 923.8,277.5 930,276.2 938.8,273.8 942.5,272.5 942.5,280 947.5,282.5 943.8,287.5 947.5,292.5 946.2,300 938.8,303.8 932.5,305 925,307.5 917.5,310 907.5,312.5 900,317.5 890,320 880,325 880,290 890,300 892.5,290 897.5,285 890,275 885,265 880,262.5"/>
<polygon fill="#FEE79B" stroke="#FEE79B" stroke-width="0.6" points="926.2,213.8 933.8,208.8 942.5,203.8 952.5,197.5 960,191.2 962.5,198.8 966.2,186.2 971.2,182.5 980,185 987.5,184.5 987.5,190 990,193.8 997.5,196.2 1000,203.8 1002.5,207.5 995,210 985,212.5 975,212.5 965,213.8 957.5,217.5 951.2,223.8 950,228.8 950,232.5 946.2,236.2 938.8,236.2 935,231.2 937.5,225 933.8,221.2 928.8,217.5"/>
<polygon fill="#E1640E" stroke="#E1640E" stroke-width="0.6" points="951.2,223.8 957.5,217.5 965,213.8 975,212.5 985,212.5 995,210 1002.5,207.5 1010,205 1016.2,202.5 1023.8,200 1030,202.5 1030,211.2 1033.8,213.8 1027.5,216.2 1022.5,220 1027.5,228.8 1021.2,226.2 1015,222.5 1007.5,226.2 1000,231.2 995,236.2 996.2,245 987.5,248.8 985,252.5 975,253.8 965,252.5 956.2,247.5 953.8,238.8 950,228.8"/>
<polygon fill="#FEAC3A" stroke="#FEAC3A" stroke-width="0.6" points="1023.8,200 1030,198.8 1035,193.8 1041.2,192.5 1045,187.5 1052.5,181.2 1047.5,173.8 1052.5,170 1058.8,177.5 1065,181.2 1073.8,182.5 1071.2,190 1073.8,193.8 1065,196.2 1058.8,198.8 1056.2,203.8 1058.8,210 1057.5,217.5 1053.8,225 1045,228.8 1037.5,230 1027.5,228.8 1022.5,220 1027.5,216.2 1033.8,213.8 1030,211.2 1030,202.5"/>
<polygon fill="#FEE79B" stroke="#FEE79B" stroke-width="0.6" points="985,252.5 987.5,248.8 996.2,245 995,236.2 1000,231.2 1007.5,226.2 1015,222.5 1021.2,226.2 1027.5,228.8 1037.5,230 1045,228.8 1053.8,225 1057.5,217.5 1060,215 1067.5,216.2 1073.8,215 1080,217.5 1073.8,225 1075,228.8 1082.5,231.2 1085,236.2 1080,240 1070,240 1063.8,242.5 1055,243.8 1048.8,248.8 1045,256.2 1043.8,263.8 1037.5,268.8 1032.5,273.8 1027.5,276.2 1023.8,280 1020,276.2 1016.2,270 1010,267.5 1007.5,261.2 1000,257.5 992.5,257.5"/>
<polygon fill="#FEE79B" stroke="#FEE79B" stroke-width="0.6" points="1080,206.2 1092.5,207 1102.5,205.5 1110,202.5 1117.5,198.8 1130,196.2 1142.5,193 1153.8,190 1147.5,197.5 1145,205 1141.2,206.2 1132.5,208.8 1126.2,210 1120,213.8 1110,217.5 1097.5,217.5 1087.5,220 1080,222.5 1073.8,225 1080,217.5 1087.5,216.2 1097.5,215 1105,211.2 1107.5,205"/>
<polygon fill="#FFFFE5" stroke="#FFFFE5" stroke-width="0.6" points="1067.5,257.5 1072.5,252.5 1080,250 1087.5,247.5 1095,242.5 1105,240 1115,235 1120,230 1130,227.5 1137.5,230 1126.2,240 1123.8,250 1120,255 1117.5,263.8 1105,261.2 1095,257.5 1087.5,261.2 1080,263.8 1072.5,262.5"/>
<polygon fill="#FFF7C0" stroke="#FFF7C0" stroke-width="0.6" points="1020,276.2 1023.8,280 1027.5,276.2 1032.5,273.8 1037.5,268.8 1043.8,263.8 1045,256.2 1048.8,248.8 1055,243.8 1063.8,242.5 1067.5,247.5 1077.5,248.8 1072.5,252.5 1067.5,257.5 1072.5,262.5 1080,263.8 1087.5,261.2 1087.5,295 1081.2,292.5 1073.8,290 1067.5,285 1060,283.8 1052.5,287.5 1045,292.5 1040,290 1036.2,282.5 1032.5,275 1028.8,280 1025,281.2"/>
<polygon fill="#FFF7C0" stroke="#FFF7C0" stroke-width="0.6" points="912.5,245 921.2,242.5 926.2,246.2 932.5,242.5 933.8,237.5 938.8,236.2 946.2,236.2 950,232.5 953.8,238.8 956.2,247.5 965,252.5 975,253.8 985,252.5 980,257.5 970,258.8 960,260 952.5,263.8 945,266.2 942.5,272.5 938.8,273.8 930,276.2 923.8,277.5 920,270 918.8,262.5 920,255 916.2,250"/>
<polygon fill="#FFFFE5" stroke="#FFFFE5" stroke-width="0.6" points="942.5,272.5 945,266.2 952.5,263.8 960,260 970,258.8 980,257.5 985,252.5 992.5,257.5 987.5,265 980,267.5 972.5,270 965,272.5 962.5,278.8 955,281.2 947.5,282.5 942.5,280"/>
<polygon fill="#FECE65" stroke="#FECE65" stroke-width="0.6" points="965,272.5 972.5,270 980,267.5 987.5,265 992.5,257.5 1000,257.5 1007.5,261.2 1007.5,268.8 1000,271.2 997.5,277.5 991.2,281.2 987.5,287.5 986.2,295 982.5,300 975,300 967.5,298.8 962.5,302.5 955,297.5 947.5,292.5 943.8,287.5 947.5,282.5 955,281.2 962.5,278.8"/>
<polygon fill="#FEE79B" stroke="#FEE79B" stroke-width="0.6" points="987.5,287.5 991.2,281.2 997.5,277.5 1000,271.2 1007.5,268.8 1010,267.5 1016.2,270 1020,276.2 1025,281.2 1028.8,280 1032.5,275 1036.2,282.5 1040,290 1045,292.5 1052.5,287.5 1060,283.8 1067.5,285 1073.8,290 1081.2,292.5 1087.5,295 1083.8,300 1080,305 1072.5,306.2 1073.8,315 1066.2,307.5 1060,303.8 1057.5,310 1055,315 1045,320 1035,325 1027.5,325 1025,317.5 1025,312.5 1020,307.5 1011.2,307.5 1005,308.8 1000,315 996.2,320 990,315 985,306.2 982.5,300 986.2,295"/>
<polygon fill="#FEAC3A" stroke="#FEAC3A" stroke-width="0.6" points="970,300 975,300 982.5,300 985,306.2 980,313.8 976.2,310 971.2,305"/>
<polygon fill="#FFFFE5" stroke="#FFFFE5" stroke-width="0.6" points="980,313.8 985,306.2 990,315 996.2,320 992.5,325 997.5,331.2 1002.5,330 997.5,336.2 992.5,340 987.5,345 983.8,346.2 985,338.8 980,330 976.2,320"/>
<polygon fill="#FEAC3A" stroke="#FEAC3A" stroke-width="0.6" points="992.5,325 996.2,320 1000,315 1005,308.8 1011.2,307.5 1020,307.5 1025,312.5 1025,317.5 1027.5,325 1031.2,333.8 1025,336.2 1017.5,335 1010,333.8 1006.2,328.8 1002.5,330 997.5,331.2"/>
<polygon fill="#FFFFE5" stroke="#FFFFE5" stroke-width="0.6" points="946.2,300 947.5,292.5 955,297.5 962.5,302.5 967.5,298.8 971.2,305 976.2,310 980,313.8 976.2,320 980,330 976.2,333.8 965,332.5 955,332.5 950,325 945,320 943.8,312.5 945,305"/>
<polygon fill="#FFF7C0" stroke="#FFF7C0" stroke-width="0.6" points="947.5,323.8 955,321.2 965,320 972.5,322.5 976.2,327.5 976.2,333.8 965,332.5 955,332.5 950,330"/>
<polygon fill="#FFFFE5" stroke="#FFFFE5" stroke-width="0.6" points="726.7,246.7 760,246.7 826.7,220 875,213.3 881.7,210 880,220 878.3,233.3 876.7,246.7 870,256.7 863.3,263.3 856.7,270 846.7,276.7 836.7,280 828.3,281.7 823.3,290 816.7,296.7 821.7,306.7 823.3,316.7 813.3,320 800,320 786.7,323.3 776.7,326.7 766.7,323.3 760,321.7 726.7,293.3"/>
<polygon fill="#FECE65" stroke="#FECE65" stroke-width="0.6" points="816.7,296.7 823.3,290 828.3,281.7 836.7,280 846.7,276.7 856.7,270 863.3,263.3 870,256.7 875,263.3 883.3,273.3 893.3,280 896.7,290 891.7,300 888.3,310 893.3,320 886.7,326.7 876.7,323.3 870,316.7 863.3,326.7 860,336.7 850,331.7 848.3,323.3 840,313.3 835,311.7 823.3,316.7 821.7,306.7"/>
<polygon fill="#FFFFE5" stroke="#FFFFE5" stroke-width="0.6" points="680,500 694,506 694,512 695,520 697,526 700,532 703,536 706,540 710,546 710,552 707,558 708,564 711,570 704,574 698,574 692,577 686,576 680,577"/>
<polygon fill="#FEE79B" stroke="#FEE79B" stroke-width="0.6" points="694,506 702,504 712,503 720,502 726,508 732,514 740,519 748,520 756,521 762,519 768,522 771,526 774,530 782,534 788,538 782,540 784,548 792,550 788,557 784,562 786,568 792,574 788,576 782,578 776,580 772,584 770,580 768,574 764,576 756,577 750,576 746,579 742,576 736,574 730,571 722,569 714,568 711,570 708,564 707,558 710,552 710,546 706,540 703,536 700,532 697,526 695,520 694,512"/>
<polygon fill="#FECE65" stroke="#FECE65" stroke-width="0.6" points="720,502 726,508 732,514 740,519 748,520 756,521 759,514 760,508 762,500 722,500"/>
<polygon fill="#FFFFE5" stroke="#FFFFE5" stroke-width="0.6" points="759,514 760,508 762,500 792,500 791,508 794,514 788,516 784,520 776,518 771,516 768,522 762,519 756,521"/>
<polygon fill="#FECE65" stroke="#FECE65" stroke-width="0.6" points="756,521 762,519 768,522 771,526 774,530 770,534 764,536 758,538 754,536 751,532 754,526"/>
<polygon fill="#FEAC3A" stroke="#FEAC3A" stroke-width="0.6" points="771,526 771,520 776,518 784,520 788,516 794,514 800,518 808,519 808,526 806,532 800,536 794,537 788,538 782,534 774,530"/>
<polygon fill="#FFF7C0" stroke="#FFF7C0" stroke-width="0.6" points="764,536 770,534 774,530 782,534 788,538 782,540 784,548 780,552 776,558 772,562 766,560 762,554 764,548 762,542"/>
<polygon fill="#FEAC3A" stroke="#FEAC3A" stroke-width="0.6" points="782,540 788,538 794,540 800,544 808,548 810,554 808,560 810,568 804,571 798,570 792,574 786,568 784,562 788,557 792,550 784,548"/>
<polygon fill="#E1640E" stroke="#E1640E" stroke-width="0.6" points="784,564 789,562 794,564 798,568 800,572 796,575 792,576 788,572 785,569"/>
<polygon fill="#FECE65" stroke="#FECE65" stroke-width="0.6" points="750,554 756,551 762,550 764,555 762,559 756,558"/>
<polygon fill="#D9D9D9" stroke="#D9D9D9" stroke-width="0.6" points="748,559 752,557 756,560 755,565 750,566 747,563"/>
<polygon fill="#D9D9D9" stroke="#D9D9D9" stroke-width="0.6" points="704,536 708,532 715,532 718,535 714,539 708,540"/>
<polygon fill="#FECE65" stroke="#FECE65" stroke-width="0.6" points="766,570 772,568 778,569 784,570 788,576 782,578 776,580 772,584 770,580 768,574"/>
<polygon fill="#FEE79B" stroke="#FEE79B" stroke-width="0.6" points="711,570 714,568 722,569 730,571 736,574 742,576 746,579 750,576 756,577 764,576 768,574 770,580 772,584 774,588 778,594 778,600 776,606 770,612 768,618 773,622 774,628 772,634 774,640 778,647 774,650 773,658 770,662 762,660 757,663 756,670 751,668 746,669 740,672 738,680 734,678 730,674 728,670 724,674 720,670 722,664 726,658 728,652 724,648 720,644 714,644 710,648 706,650 702,646 696,644 692,640 694,634 692,628 684,628 688,622 692,618 690,612 690,606 689,600 690,594 688,588 691,582 692,577 698,574 704,574"/>
<polygon fill="#D9D9D9" stroke="#D9D9D9" stroke-width="0.6" points="690,582 694,578 700,578 706,584 708,592 706,600 702,608 698,612 692,614 690,606 689,600 690,594 688,588"/>
<polygon fill="#FEAC3A" stroke="#FEAC3A" stroke-width="0.6" points="698,575 706,574 714,575 722,576 725,580 720,584 716,588 712,590 708,586 706,584 700,578"/>
<polygon fill="#FECE65" stroke="#FECE65" stroke-width="0.6" points="692,618 698,612 702,608 706,600 708,592 712,590 716,588 720,594 718,600 716,606 712,612 710,618 706,624 702,630 700,638 696,644 692,640 694,634 692,628 684,628 688,622"/>
<polygon fill="#FFF7C0" stroke="#FFF7C0" stroke-width="0.6" points="738,580 746,579 750,576 756,577 764,576 768,574 770,580 768,586 764,592 760,596 752,598 746,596 740,594 738,588"/>
<polygon fill="#FFFFE5" stroke="#FFFFE5" stroke-width="0.6" points="750,580 756,579 764,578 768,580 768,586 764,592 760,596 754,596 750,590"/>
<polygon fill="#FFF7C0" stroke="#FFF7C0" stroke-width="0.6" points="772,584 774,588 778,594 778,600 776,606 770,612 764,610 760,604 760,596 764,592 768,586 770,580"/>
<polygon fill="#FECE65" stroke="#FECE65" stroke-width="0.6" points="760,610 764,610 770,612 768,618 773,622 774,628 772,634 768,632 764,628 760,624 757,618"/>
<polygon fill="#FFF7C0" stroke="#FFF7C0" stroke-width="0.6" points="720,594 728,596 736,600 740,606 738,614 740,622 738,630 732,634 726,638 720,644 714,644 710,648 706,650 702,646 700,638 702,630 706,624 710,618 712,612 716,606 718,600"/>
<polygon fill="#FFF7C0" stroke="#FFF7C0" stroke-width="0.6" points="720,644 726,638 732,634 738,630 744,636 744,648 742,654 744,658 746,664 746,669 740,672 738,680 734,678 730,674 728,670 724,674 720,670 722,664 726,658 728,652 724,648"/>
<polygon fill="#F5861F" stroke="#F5861F" stroke-width="0.6" points="744,648 750,647 758,644 760,638 759,634 764,636 768,642 774,648 778,647 774,650 773,658 770,662 762,660 757,663 756,670 751,668 746,664 744,658 742,654"/>
<polygon fill="#FFF7C0" stroke="#FFF7C0" stroke-width="0.6" points="772,584 776,580 782,578 788,576 792,576 800,572 804,571 810,568 816,569 822,568 824,574 828,572 834,571 838,576 842,579 848,582 846,588 850,594 854,600 856,604 850,607 842,610 836,614 832,618 829,624 824,630 820,636 821,644 818,648 814,652 812,658 810,664 808,670 808,674 802,674 798,676 792,678 786,676 780,680 778,674 780,668 784,666 788,664 782,662 778,664 773,658 774,650 778,647 774,640 772,634 774,628 773,622 768,618 770,612 776,606 778,600 778,594 774,588"/>
<polygon fill="#FFFFE5" stroke="#FFFFE5" stroke-width="0.6" points="776,582 782,579 792,577 800,573 810,569 820,569 824,574 820,580 816,586 810,588 804,588 798,590 792,588 784,588 778,588"/>
<polygon fill="#FFFFE5" stroke="#FFFFE5" stroke-width="0.6" points="778,594 784,588 792,588 798,590 800,592 802,596 806,598 810,602 812,606 808,612 802,618 792,620 784,620 777,620 778,614 774,610 776,606 778,600"/>
<polygon fill="#FFFFE5" stroke="#FFFFE5" stroke-width="0.6" points="773,622 777,620 784,620 792,620 802,618 805,625 810,628 813,632 816,638 812,640 804,642 796,646 788,648 780,644 774,640 772,634 774,628"/>
<polygon fill="#FEAC3A" stroke="#FEAC3A" stroke-width="0.6" points="800,592 804,588 810,587 816,588 818,594 820,600 816,604 810,602 806,598 802,596"/>
<polygon fill="#F5861F" stroke="#F5861F" stroke-width="0.6" points="802,618 808,612 812,606 816,604 820,600 826,598 832,600 834,606 836,612 832,618 829,624 824,630 820,636 816,638 813,632 810,628 805,625"/>
<polygon fill="#FEAC3A" stroke="#FEAC3A" stroke-width="0.6" points="820,600 826,598 832,600 834,606 835,611 830,612 826,608 822,605"/>
<polygon fill="#F5861F" stroke="#F5861F" stroke-width="0.6" points="782,609 788,607 794,609 798,612 792,615 787,618 784,614"/>
<polygon fill="#F5861F" stroke="#F5861F" stroke-width="0.6" points="770,612 774,610 778,614 777,620 774,624 773,628 773,622 768,618"/>
<polygon fill="#FFFFE5" stroke="#FFFFE5" stroke-width="0.6" points="791,508 792,500 820,500 824,508 830,518 824,526 820,522 816,518 808,519 800,518 794,514"/>
<polygon fill="#FECE65" stroke="#FECE65" stroke-width="0.6" points="808,519 816,518 820,522 824,526 823,532 826,538 830,546 828,552 824,550 818,548 812,547 808,548 800,544 794,540 794,537 800,536 806,532 808,526"/>
<polygon fill="#F5861F" stroke="#F5861F" stroke-width="0.6" points="824,526 830,518 836,520 842,524 844,532 843,538 838,542 836,548 830,546 826,538 823,532"/>
<polygon fill="#FFF7C0" stroke="#FFF7C0" stroke-width="0.6" points="808,548 812,547 818,548 824,550 828,552 830,558 826,562 822,568 816,569 810,568 808,560 810,554"/>
<polygon fill="#F5861F" stroke="#F5861F" stroke-width="0.6" points="828,552 830,558 826,562 824,568 822,575 826,576 829,570 834,568 840,564 846,560 848,554 844,552 840,553 836,555 832,554"/>
<polygon fill="#FEE79B" stroke="#FEE79B" stroke-width="0.6" points="834,568 840,564 846,560 850,562 854,566 860,568 856,573 852,578 848,582 842,579 838,576 834,571"/>
<polygon fill="#E1640E" stroke="#E1640E" stroke-width="0.6" points="848,554 852,548 858,543 864,542 872,545 875,548 872,554 868,558 864,562 860,568 854,566 850,562 846,560"/>
<polygon fill="#FFFFE5" stroke="#FFFFE5" stroke-width="0.6" points="838,542 843,538 848,536 854,538 860,540 858,543 852,548 848,554 844,552 840,553 836,548"/>
<polygon fill="#FFFFE5" stroke="#FFFFE5" stroke-width="0.6" points="820,500 860,500 864,504 868,508 864,514 856,516 854,522 848,520 842,524 836,520 830,518 824,508"/>
<polygon fill="#FECE65" stroke="#FECE65" stroke-width="0.6" points="842,524 848,520 854,522 856,528 858,534 860,540 854,538 848,536 843,538 844,532"/>
<polygon fill="#FFFFE5" stroke="#FFFFE5" stroke-width="0.6" points="856,516 864,514 870,518 876,520 882,522 886,528 882,530 876,532 872,538 866,540 860,540 858,534 856,528 854,522"/>
<polygon fill="#FEE79B" stroke="#FEE79B" stroke-width="0.6" points="860,500 897,500 900,508 902,516 908,522 916,532 904,528 896,526 886,528 882,522 876,520 870,518 864,514 868,508 864,504"/>
<polygon fill="#FECE65" stroke="#FECE65" stroke-width="0.6" points="868,500 878,500 879,508 877,516 875,520 870,518 867,512 869,506"/>
<polygon fill="#FEAC3A" stroke="#FEAC3A" stroke-width="0.6" points="872,538 876,532 882,530 886,529 891,532 892,537 888,540 884,543 878,545 875,548 872,545 866,540"/>
<polygon fill="#FFF7C0" stroke="#FFF7C0" stroke-width="0.6" points="888,540 892,537 891,532 886,528 896,526 904,528 916,532 920,540 906,542 904,548 900,552 895,551 890,549 884,546 884,543"/>
<polygon fill="#FFFFE5" stroke="#FFFFE5" stroke-width="0.6" points="902,540 908,538 920,540 920,564 912,558 906,556 900,552 904,548 906,542"/>
<polygon fill="#FFFFE5" stroke="#FFFFE5" stroke-width="0.6" points="860,568 864,562 868,558 872,554 875,548 878,545 884,546 890,549 895,551 900,552 906,556 920,564 920,612 900,624 888,640 880,638 876,628 877,620 870,620 864,619 862,612 860,604 856,604 854,600 850,594 846,588 848,582 852,578 856,573"/>
<polygon fill="#FEE79B" stroke="#FEE79B" stroke-width="0.6" points="875,548 878,545 884,546 890,549 888,554 882,556 876,558 872,554"/>
<polygon fill="#FFF7C0" stroke="#FFF7C0" stroke-width="0.6" points="860,568 864,562 868,558 872,554 876,558 882,556 888,554 895,551 900,552 902,558 898,562 892,566 886,570 880,574 876,578 870,580 864,582 860,580 856,573"/>
<polygon fill="#FECE65" stroke="#FECE65" stroke-width="0.6" points="848,582 852,578 856,573 860,580 864,582 868,586 869,592 864,596 858,598 854,600 850,594 846,588"/>
<polygon fill="#D9D9D9" stroke="#D9D9D9" stroke-width="0.6" points="858,598 864,596 869,592 874,596 880,594 886,592 888,598 888,608 880,610 876,616 870,620 864,619 862,612 860,604"/>
<polygon fill="#FFF7C0" stroke="#FFF7C0" stroke-width="0.6" points="856,604 860,604 862,612 864,619 870,620 877,620 876,628 880,638 888,640 860,680 832,702 828,694 826,686 824,678 818,674 812,672 808,674 808,670 810,664 812,658 814,652 818,648 821,644 820,636 824,630 829,624 832,618 836,614 842,610 850,607"/>
<polygon fill="#FFFFE5" stroke="#FFFFE5" stroke-width="0.6" points="856,636 860,628 866,624 870,620 877,620 876,628 880,638 888,640 860,680 856,672 852,666 854,656 856,646"/>
<polygon fill="#FECE65" stroke="#FECE65" stroke-width="0.6" points="810,664 812,658 816,652 822,650 828,652 834,654 840,658 838,666 832,670 828,676 824,678 818,674 812,672 808,670"/>
<polygon fill="#FFFFE5" stroke="#FFFFE5" stroke-width="0.6" points="780,680 786,676 792,678 798,676 802,674 808,674 812,672 818,674 824,678 826,686 828,694 832,702 820,712 810,718 800,720 790,721 780,722 774,718 770,712 772,706 770,700 774,694 778,688"/>
<polygon fill="#FEAC3A" stroke="#FEAC3A" stroke-width="0.6" points="738,680 740,672 746,669 751,668 756,670 757,663 762,660 770,662 773,658 778,664 774,668 768,670 764,674 760,680 768,682 772,688 770,694 766,698 760,700 754,702 748,708 740,710 734,706 730,708 732,700 736,692 738,686"/>
<polygon fill="#FEE79B" stroke="#FEE79B" stroke-width="0.6" points="760,680 764,674 768,670 774,668 778,664 782,662 788,664 784,666 780,668 778,674 780,680 778,688 774,694 770,700 766,698 770,694 772,688 768,682"/>
<polygon fill="#FEE79B" stroke="#FEE79B" stroke-width="0.6" points="756,670 757,663 762,660 770,662 773,658 778,664 774,668 768,670 764,674 760,680 757,676"/>
<polygon fill="#FFF7C0" stroke="#FFF7C0" stroke-width="0.6" points="760,700 766,698 770,700 772,706 770,712 774,718 770,722 766,724 764,723 762,716 760,708"/>
<polygon fill="#F5861F" stroke="#F5861F" stroke-width="0.6" points="752,702 756,700 760,708 762,716 758,718 752,718 748,716 746,712 750,708"/>
<polygon fill="#FEAC3A" stroke="#FEAC3A" stroke-width="0.6" points="746,712 748,716 752,718 758,718 760,724 758,732 752,738 746,736 742,730 739,724 742,718"/>
<polygon fill="#D9D9D9" stroke="#D9D9D9" stroke-width="0.6" points="759,725 764,723 767,727 764,732 760,734 758,730"/>
<polygon fill="#FFFFE5" stroke="#FFFFE5" stroke-width="0.6" points="692,640 696,644 702,646 706,650 710,648 714,644 720,644 724,648 728,652 726,658 722,664 720,670 714,672 708,674 702,672 698,666 696,658 698,652"/>
<polygon fill="#FEAC3A" stroke="#FEAC3A" stroke-width="0.6" points="680,685 686,689 692,693 700,690 706,683 710,687 708,692 702,696 698,700 692,703 686,704 680,698"/>
<polygon fill="#FFF7C0" stroke="#FFF7C0" stroke-width="0.6" points="692,703 698,700 702,696 708,692 712,694 714,702 716,710 720,716 724,718 728,714 730,708 734,706 740,710 742,718 739,724 742,730 746,736 740,740 694,740 696,730 700,720 696,712 690,708 686,704"/>
<polygon fill="#FEE79B" stroke="#FEE79B" stroke-width="0.6" points="700,720 706,718 710,722 708,730 704,736 698,740 694,740 696,730"/>
<polygon fill="#FFFFE5" stroke="#FFFFE5" stroke-width="0.6" points="766,698 770,700 774,694 778,688 780,680 792,678 820,712 810,720 800,722 784,726 774,728 768,727 767,724 770,722 774,718 770,712 772,706"/>
<polygon fill="#D9D9D9" stroke="#D9D9D9" stroke-width="0.6" points="677,497 682,492 688,489 696,482 700,479 708,478 712,484 718,494 720,500 714,503 704,505 696,503 688,502 680,502"/>
<polygon fill="#FEE79B" stroke="#FEE79B" stroke-width="0.6" points="477,490 484,483 494,486 498,496 502,502 510,510 518,508 524,514 534,516 540,512 542,504 548,501 554,502 558,496 564,499 562,490 568,486 576,483 580,490 588,493 596,498 600,504 599,509 594,509 594,514 592,520 591,528 596,531 600,535 594,537 588,542 584,548 578,552 574,550 569,552 564,560 563,568 564,574 560,578 558,582 564,589 560,594 554,598 548,600 544,594 541,587 536,588 532,594 530,602 528,608 524,604 520,598 516,593 512,598 510,604 508,596 507,586 504,576 505,564 502,552 500,544 497,540 498,532 494,524 490,519 482,517 477,512 479,504 480,498"/>
<polygon fill="#F5861F" stroke="#F5861F" stroke-width="0.6" points="528,608 530,602 532,594 536,588 541,587 544,594 548,600 554,598 560,594 564,589 566,586 572,582 575,588 578,594 582,598 588,597 591,600 586,605 585,612 580,616 575,620 575,628 577,636 574,642 568,644 562,646 558,648 560,640 563,634 564,628 558,625 551,624 546,625 544,628 540,622 537,616 534,611"/>
<polygon fill="#FEAC3A" stroke="#FEAC3A" stroke-width="0.6" points="572,582 574,576 578,571 584,574 590,572 596,573 598,580 597,588 594,594 591,600 588,597 582,598 578,594 575,588"/>
<polygon fill="#FECE65" stroke="#FECE65" stroke-width="0.6" points="512,620 518,624 524,628 527,620 530,614 534,611 537,616 540,622 544,628 547,633 550,638 548,642 540,644 534,648 531,642 528,636 522,634 516,632 513,626"/>
<polygon fill="#E1640E" stroke="#E1640E" stroke-width="0.6" points="539,646 544,643 550,642 554,644 558,648 562,646 564,652 566,660 564,668 560,672 557,678 558,684 552,686 548,683 544,680 540,674 536,670 539,664 540,656"/>
<polygon fill="#FEE79B" stroke="#FEE79B" stroke-width="0.6" points="562,646 568,644 574,642 578,644 580,650 582,656 584,662 582,668 578,672 572,676 566,678 560,672 564,668 566,660 564,652"/>
<polygon fill="#FECE65" stroke="#FECE65" stroke-width="0.6" points="578,636 582,632 588,634 592,638 598,640 602,646 603,654 606,660 609,666 604,672 600,680 596,682 590,678 586,672 582,668 584,662 582,656 580,650 578,644 574,642 577,636"/>
<polygon fill="#FFF7C0" stroke="#FFF7C0" stroke-width="0.6" points="546,684 552,686 558,684 557,678 560,672 566,678 572,676 578,672 582,668 586,672 590,678 596,682 592,686 588,692 590,700 592,708 590,716 580,718 572,716 564,718 558,714 556,706 554,700 550,694 548,688"/>
<polygon fill="#FFFFE5" stroke="#FFFFE5" stroke-width="0.6" points="546,684 552,686 558,684 560,680 564,680 568,684 572,682 576,676 580,678 578,684 572,690 568,696 564,702 562,708 558,714 556,706 554,700 550,694 548,688"/>
<polygon fill="#F5861F" stroke="#F5861F" stroke-width="0.6" points="490,664 496,656 502,658 508,660 512,666 518,668 522,667 524,672 520,678 516,682 510,686 504,687 500,684 499,678 495,676 493,670"/>
<polygon fill="#FEAC3A" stroke="#FEAC3A" stroke-width="0.6" points="500,684 504,687 510,686 516,682 520,678 524,672 528,676 531,682 531,690 528,698 524,704 520,707 514,709 508,706 504,702 502,696 500,690"/>
<polygon fill="#FFF7C0" stroke="#FFF7C0" stroke-width="0.6" points="578,552 584,548 588,542 594,537 600,535 606,540 610,546 614,552 618,546 622,548 630,548 636,546 640,548 644,552 642,557 636,554 630,558 626,560 622,564 618,568 612,566 606,568 600,570 596,573 590,572 584,574 578,571 580,566 582,560"/>
<polygon fill="#FFFFE5" stroke="#FFFFE5" stroke-width="0.6" points="594,538 600,536 606,542 612,548 618,550 624,554 626,560 620,562 614,558 608,554 602,548 596,544"/>
<polygon fill="#FEAC3A" stroke="#FEAC3A" stroke-width="0.6" points="592,520 594,514 594,509 599,509 603,515 608,520 614,522 617,530 620,537 624,544 622,548 618,546 614,552 610,546 606,540 600,535 596,531 591,528"/>
<polygon fill="#D9D9D9" stroke="#D9D9D9" stroke-width="0.6" points="608,516 616,514 624,512 632,514 640,518 638,526 634,530 628,532 622,536 620,537 617,530 614,522 608,520"/>
<polygon fill="#FFF7C0" stroke="#FFF7C0" stroke-width="0.6" points="640,518 646,514 652,518 658,522 662,526 660,532 652,536 646,540 640,542 636,546 630,548 624,544 620,537 622,536 628,532 634,530 638,526"/>
<polygon fill="#FFFFE5" stroke="#FFFFE5" stroke-width="0.6" points="640,518 646,514 652,518 658,522 662,526 660,532 652,536 646,534 640,530 638,526"/>
<polygon fill="#FEE79B" stroke="#FEE79B" stroke-width="0.6" points="652,536 660,532 668,530 673,534 670,540 666,546 662,550 656,552 652,558 648,556 644,552 640,548 640,542 646,540"/>
<polygon fill="#F5861F" stroke="#F5861F" stroke-width="0.6" points="630,558 636,554 642,553 648,556 652,558 650,564 646,568 642,564 636,562 632,561"/>
<polygon fill="#FEE79B" stroke="#FEE79B" stroke-width="0.6" points="596,573 600,570 606,568 612,566 618,568 616,574 618,580 616,588 618,596 614,600 608,598 604,600 600,597 597,588 598,580"/>
<polygon fill="#FFF7C0" stroke="#FFF7C0" stroke-width="0.6" points="585,612 588,604 591,600 594,594 600,597 604,600 608,598 614,600 618,596 618,604 620,612 616,616 610,620 604,622 598,623 592,622 588,626 583,632 578,636 575,628 575,620 580,616"/>
<polygon fill="#FFFFE5" stroke="#FFFFE5" stroke-width="0.6" points="618,580 620,574 624,568 626,560 630,558 632,561 636,562 642,564 646,568 650,564 652,558 656,552 662,550 666,546 670,540 673,534 678,528 684,526 692,530 700,534 700,556 694,554 686,556 678,558 675,564 677,572 682,576 688,578 690,586 689,596 686,602 682,604 678,598 674,592 670,588 664,589 660,586 656,589 652,594 646,596 640,598 636,596 630,598 626,600 630,602 636,608 635,613 628,614 620,612 618,604 624,598 618,596 616,588"/>
<polygon fill="#FEE79B" stroke="#FEE79B" stroke-width="0.6" points="666,564 672,560 677,572 682,576 688,578 690,586 689,596 686,602 682,604 678,598 680,592 676,586 672,580 668,572"/>
<polygon fill="#FFF7C0" stroke="#FFF7C0" stroke-width="0.6" points="636,570 644,568 652,570 660,574 668,580 666,586 660,586 656,589 650,588 644,584 638,578"/>
<polygon fill="#FFFFE5" stroke="#FFFFE5" stroke-width="0.6" points="624,598 630,598 636,596 640,598 646,596 652,594 656,589 660,586 664,589 670,588 674,592 678,598 682,604 686,602 688,608 690,616 692,624 694,632 690,638 684,640 678,638 672,642 668,640 662,638 656,636 652,632 650,626 646,622 642,620 636,618 635,613 636,608 630,602 626,600"/>
<polygon fill="#FECE65" stroke="#FECE65" stroke-width="0.6" points="686,620 692,616 700,612 700,650 694,646 690,638 694,632 692,624"/>
<polygon fill="#FEE79B" stroke="#FEE79B" stroke-width="0.6" points="632,632 636,628 642,624 646,622 650,626 652,632 650,638 646,642 640,644 636,646 634,640"/>
<polygon fill="#FFFFE5" stroke="#FFFFE5" stroke-width="0.6" points="636,646 640,644 646,642 650,638 652,632 656,636 662,638 668,640 672,642 678,638 684,640 690,638 694,646 696,652 690,654 684,656 680,662 674,664 668,666 664,662 658,660 652,662 648,666 642,664 638,660 636,654"/>
<polygon fill="#FFF7C0" stroke="#FFF7C0" stroke-width="0.6" points="600,638 604,640 608,636 612,634 618,638 622,642 626,648 632,646 636,646 636,654 638,660 634,666 628,670 622,672 616,670 612,672 606,676 604,672 609,666 606,660 603,654 602,646"/>
<polygon fill="#FEE79B" stroke="#FEE79B" stroke-width="0.6" points="610,648 616,646 622,649 626,654 625,660 620,664 614,663 610,658"/>
<polygon fill="#FEE79B" stroke="#FEE79B" stroke-width="0.6" points="606,676 612,672 616,670 622,672 628,670 634,666 638,664 636,670 630,672 626,676 620,678 614,677 610,680 604,678"/>
<polygon fill="#FEE79B" stroke="#FEE79B" stroke-width="0.6" points="644,708 650,704 656,706 658,712 660,720 646,720 643,714"/>
<polygon fill="#D9D9D9" stroke="#D9D9D9" stroke-width="0.6" points="710,686 716,682 720,678 722,672 728,670 732,674 738,676 740,678 738,688 732,696 730,704 728,712 728,718 720,720 714,722 716,718 712,712 712,706 714,700 710,694 708,692"/>
<polygon fill="#FFFFE5" stroke="#FFFFE5" stroke-width="0.6" points="698,743 700,738 706,734 712,732 716,728 714,722 720,720 728,718 734,720 740,724 740,730 744,736 740,740 728,744 716,748 712,754 716,763 714,770 698,770 695,753 696,746"/>
<polygon fill="#FFF7C0" stroke="#FFF7C0" stroke-width="0.6" points="694,728 698,720 704,712 712,712 716,718 714,722 716,728 712,732 706,734 700,738 698,743 695,740 696,736"/>
<polygon fill="#FFFFE5" stroke="#FFFFE5" stroke-width="0.6" points="688,706 694,702 700,696 704,693 710,694 714,700 712,706 712,712 704,712 698,720 694,714 690,710"/>
<polygon fill="#FEAC3A" stroke="#FEAC3A" stroke-width="0.6" points="674,692 680,683 686,688 692,693 698,688 704,682 710,686 708,692 704,693 700,696 694,702 688,706 684,702 680,698 675,697"/>
<polygon fill="#FEE79B" stroke="#FEE79B" stroke-width="0.6" points="644,715 648,708 654,704 658,709 662,713 667,718 666,724 662,728 660,733 658,738 654,740 650,738 645,735 640,728 640,720"/>
<polygon fill="#FFFFE5" stroke="#FFFFE5" stroke-width="0.6" points="698,652 704,648 712,647 720,644 726,648 728,654 724,660 720,666 722,672 720,678 716,682 710,684 704,680 700,676 696,670 698,662"/>
<polygon fill="#FFF7C0" stroke="#FFF7C0" stroke-width="0.6" points="724,660 728,654 736,656 742,660 744,666 740,670 738,676 732,674 728,670 722,672 720,666"/>
<polygon fill="#FEAC3A" stroke="#FEAC3A" stroke-width="0.6" points="730,704 732,696 738,688 740,678 742,670 746,668 752,669 754,674 760,680 770,682 772,688 768,694 760,698 756,702 752,700 754,708 760,712 762,716 758,718 752,716 746,718 740,712 734,708"/>
<polygon fill="#F5861F" stroke="#F5861F" stroke-width="0.6" points="742,650 748,648 756,646 760,638 762,634 766,640 770,647 776,648 774,654 772,660 766,662 760,661 756,664 754,670 752,669 746,668 744,662 743,656"/>
<polygon fill="#FEE79B" stroke="#FEE79B" stroke-width="0.6" points="754,670 756,664 760,661 766,662 772,660 778,662 784,660 788,664 784,670 780,678 778,686 774,692 772,688 770,682 760,680 754,674"/>
<polygon fill="#FFF7C0" stroke="#FFF7C0" stroke-width="0.6" points="760,698 768,694 772,688 774,692 778,686 780,694 778,702 776,710 774,718 770,720 766,716 762,716 760,712 754,708 752,700 756,702"/>
<polygon fill="#F5861F" stroke="#F5861F" stroke-width="0.6" points="746,714 750,708 754,702 758,704 760,710 762,716 758,718 752,716"/>
<polygon fill="#FEAC3A" stroke="#FEAC3A" stroke-width="0.6" points="740,724 744,718 752,716 758,718 760,724 758,730 755,738 750,740 744,736 740,730"/>
<polygon fill="#FEE79B" stroke="#FEE79B" stroke-width="0.6" points="728,718 730,712 734,708 740,712 746,718 744,718 740,724 734,720"/>
<polygon fill="#D9D9D9" stroke="#D9D9D9" stroke-width="0.6" points="758,725 763,723 767,725 767,730 762,733 759,731"/>
<polygon fill="#FEE79B" stroke="#FEE79B" stroke-width="0.6" points="770,718 775,717 778,720 777,726 773,728 770,724"/>
<polygon fill="#FECE65" stroke="#FECE65" stroke-width="0.6" points="708.3,473.3 716.7,471.7 723.3,470 730,468.3 735,466.7 740,465 750,465 758.3,463.3 765,465 770,466.7 775,470 776.7,475 773.3,480 766.7,481.7 763.3,486.7 763.3,491.7 765,498.3 760,505 760,511.7 763.3,516.7 768.3,520 770,523.3 763.3,523.3 756.7,521.7 750,521.7 743.3,520 738.3,516.7 733.3,513.3 728.3,510 725,505 721.7,500 718.3,495 715,488.3 711.7,481.7"/>
<polygon fill="#FEE79B" stroke="#FEE79B" stroke-width="0.6" points="723.3,478.3 730,475.8 738.3,475 746.7,475.8 755,476.7 761.7,480 763.3,486.7 758.3,490 751.7,489.2 745,488.3 738.3,490 731.7,491.7 726.7,490 724.2,485"/>
<polygon fill="#FEAC3A" stroke="#FEAC3A" stroke-width="0.6" points="764.2,458.3 768.3,453.3 773.3,455 778.3,460 783.3,461.7 788.3,460 791.7,463.3 790,468.3 793.3,473.3 790,478.3 785,481.7 780,480 776.7,475 775,470 770,466.7 765,465"/>
<polygon fill="#F5861F" stroke="#F5861F" stroke-width="0.6" points="765,456.7 770,451.7 774.2,454.2 778.3,458.3 783.3,460.8 788.3,459.2 790.8,462.5 786.7,466.7 781.7,467.5 776.7,466.7 771.7,465 766.7,462.5"/>
<polygon fill="#FFF7C0" stroke="#FFF7C0" stroke-width="0.6" points="776.7,497.5 778.3,495 775.8,491.7 778.3,485 783.3,480.8 790,480 795,483.3 800,485 801.7,490 798.3,495 796.7,500 791.7,503.3 786.7,505.8 783.3,501.7 778.3,498.3"/>
<polygon fill="#E1640E" stroke="#E1640E" stroke-width="0.6" points="764.2,497.5 768.3,491.7 771.7,487.5 775,487.5 775.8,491.7 778.3,495 776.7,497.5 771.7,495.8 768.3,497.5"/>
<polygon fill="#FFFFE5" stroke="#FFFFE5" stroke-width="0.6" points="759.2,508.3 762.5,503.3 766.7,500.8 771.7,499.2 778.3,498.3 783.3,501.7 786.7,505.8 791.7,510 795,515 790.8,515.8 786.7,518.3 782.5,521.7 778.3,518.3 773.3,516.7 768.3,515.8 763.3,515 760,513.3"/>
<polygon fill="#FECE65" stroke="#FECE65" stroke-width="0.6" points="790,468.3 795,466.7 800,468.3 805,473.3 810,476.7 815,475.8 818.3,479.2 820,485 816.7,488.3 813.3,490 808.3,486.7 803.3,485.8 800,485 795,483.3 790,480 790,478.3 793.3,473.3"/>
<polygon fill="#FEAC3A" stroke="#FEAC3A" stroke-width="0.6" points="770,523.3 768.3,520 771.7,518.3 778.3,518.3 782.5,521.7 786.7,518.3 790.8,515.8 795,515 800,516.7 806.7,518.3 809.2,523.3 808.3,528.3 805,531.7 800,535 795,537.5 790,536.7 785,535 780,531.7 775,530 771.7,526.7"/>
<polygon fill="#FECE65" stroke="#FECE65" stroke-width="0.6" points="755,523.3 763.3,523.3 770,523.3 771.7,526.7 775,530 780,531.7 783.3,536.7 778.3,540 773.3,540 766.7,540 760,538.3 755,535 751.7,530"/>
<polygon fill="#FEAC3A" stroke="#FEAC3A" stroke-width="0.6" points="781.7,538.3 785,535 790,536.7 795,537.5 800,540 805,543.3 810,548.3 811.7,555 811.7,571.7 806.7,573.3 800,575 795,576.7 790.8,573.3 786.7,571.7 783.3,566.7 785,560 788.3,555 790.8,550 786.7,546.7 783.3,543.3"/>
<polygon fill="#E1640E" stroke="#E1640E" stroke-width="0.6" points="783.3,566.7 785.8,562.5 790.8,562.5 795,565 798.3,569.2 800,573.3 795,576.7 790.8,575 786.7,571.7"/>
<polygon fill="#FFF7C0" stroke="#FFF7C0" stroke-width="0.6" points="763.3,541.7 770,540 778.3,540 783.3,543.3 786.7,546.7 790.8,550 788.3,555 785,560 783.3,566.7 778.3,568.3 773.3,566.7 768.3,565 765,560 764.2,553.3 763.3,548.3"/>
<polygon fill="#FEAC3A" stroke="#FEAC3A" stroke-width="0.6" points="750,555 755,551.7 760,550 764.2,553.3 764.2,559.2 758.3,559.2 753.3,558.3"/>
<polygon fill="#D9D9D9" stroke="#D9D9D9" stroke-width="0.6" points="747.5,559.2 751.7,556.7 755.8,559.2 755,564.2 750,565.8 747.5,563.3"/>
<polygon fill="#D9D9D9" stroke="#D9D9D9" stroke-width="0.6" points="703.3,536.7 707.5,531.7 714.2,530.8 718.3,534.2 715.8,538.3 710,540 705.8,540.8"/>
<polygon fill="#FECE65" stroke="#FECE65" stroke-width="0.6" points="767.5,573.3 771.7,568.3 778.3,568.3 783.3,566.7 786.7,571.7 790.8,575 786.7,578.3 780,580 773.3,583.3 769.2,581.7"/>
<polygon fill="#FFFFE5" stroke="#FFFFE5" stroke-width="0.6" points="790,505 793.3,501.7 798.3,498.3 800,491.7 803.3,486.7 808.3,486.7 813.3,490 816.7,488.3 820,490 823.3,493.3 825,498.3 823.3,503.3 820,506.7 816.7,511.7 818.3,516.7 813.3,518.3 808.3,516.7 805,518.3 800,516.7 795,515 791.7,510"/>
<polygon fill="#FEE79B" stroke="#FEE79B" stroke-width="0.6" points="815,475.8 820,473.3 825,476.7 830,480 835,485 841.7,490 846.7,493.3 848.3,498.3 845,501.7 840,498.3 835,495 831.7,490 826.7,488.3 823.3,493.3 820,490 820,485 818.3,479.2"/>
<polygon fill="#FFFFE5" stroke="#FFFFE5" stroke-width="0.6" points="823.3,493.3 826.7,488.3 831.7,490 835,495 840,498.3 845,501.7 848.3,498.3 850,503.3 848.3,513.3 843.3,510 836.7,508.3 831.7,510 826.7,506.7 820,506.7 823.3,503.3 825,498.3"/>
<polygon fill="#FECE65" stroke="#FECE65" stroke-width="0.6" points="816.7,511.7 820,506.7 826.7,506.7 831.7,510 830,515 828.3,520 831.7,523.3 828.3,528.3 826.7,533.3 823.3,538.3 820,540 815,538.3 810,540 805,543.3 800,540 800,535 805,531.7 808.3,528.3 809.2,523.3 806.7,518.3 808.3,516.7 813.3,518.3 818.3,516.7"/>
<polygon fill="#F5861F" stroke="#F5861F" stroke-width="0.6" points="823.3,526.7 826.7,521.7 830,516.7 833.3,518.3 838.3,521.7 842.5,523.3 843.3,530 842.5,536.7 840,540 836.7,543.3 835,548.3 831.7,546.7 830,540 828.3,535 824.2,532.5"/>
<polygon fill="#FFFFE5" stroke="#FFFFE5" stroke-width="0.6" points="831.7,510 836.7,508.3 843.3,510 848.3,513.3 853.3,516.7 856.7,521.7 860,528.3 861.7,535 860,540 855,538.3 850,540 846.7,543.3 843.3,540 842.5,536.7 843.3,530 842.5,523.3 838.3,521.7 833.3,518.3 830,515"/>
<polygon fill="#FFF7C0" stroke="#FFF7C0" stroke-width="0.6" points="805,543.3 810,540 815,538.3 820,540 823.3,538.3 826.7,543.3 828.3,548.3 826.7,553.3 823.3,556.7 821.7,563.3 824.2,568.3 820,570 815,568.3 811.7,571.7 811.7,555 810,548.3"/>
<polygon fill="#FFF7C0" stroke="#FFF7C0" stroke-width="0.6" points="826.7,543.3 830,540 831.7,546.7 835,548.3 838.3,551.7 843.3,550 846.7,553.3 845,556.7 840,560 833.3,561.7 830,565 826.7,568.3 824.2,568.3 821.7,563.3 823.3,556.7 826.7,553.3 828.3,548.3"/>
<polygon fill="#FEE79B" stroke="#FEE79B" stroke-width="0.6" points="835,548.3 836.7,543.3 840,540 843.3,540 846.7,543.3 850,540 855,538.3 860,540 858.3,542.5 855,545 850,550 846.7,553.3 843.3,550 838.3,551.7"/>
<polygon fill="#F5861F" stroke="#F5861F" stroke-width="0.6" points="824.2,568.3 826.7,565 830,561.7 835,556.7 840,553.3 843.3,551.7 846.7,553.3 845,558.3 841.7,561.7 836.7,565 831.7,568.3 829.2,573.3 825.8,576.7 822.5,575.8 823.3,571.7"/>
<polygon fill="#E1640E" stroke="#E1640E" stroke-width="0.6" points="846.7,553.3 850,550 855,545 858.3,542.5 865,543.3 870,545 875,546.7 872.5,551.7 870,556.7 866.7,561.7 861.7,563.3 858.3,566.7 855,568.3 851.7,563.3 849.2,558.3"/>
<polygon fill="#FEE79B" stroke="#FEE79B" stroke-width="0.6" points="833.3,571.7 836.7,566.7 841.7,563.3 846.7,560 849.2,558.3 851.7,563.3 855,568.3 858.3,566.7 861.7,570 858.3,573.3 853.3,576.7 848.3,580 843.3,578.3 838.3,575"/>
<polygon fill="#FFFFE5" stroke="#FFFFE5" stroke-width="0.6" points="853.3,516.7 858.3,513.3 861.7,518.3 866.7,518.3 865,523.3 868.3,528.3 873.3,533.3 871.7,538.3 875,546.7 870,545 865,543.3 858.3,542.5 860,540 861.7,535 860,528.3 856.7,521.7"/>
<polygon fill="#FFF7C0" stroke="#FFF7C0" stroke-width="0.6" points="835,485 841.7,481.7 846.7,476.7 851.7,475 858.3,471.7 866.7,470 873.3,473.3 876.7,480 875,486.7 870,491.7 866.7,496.7 863.3,501.7 860,505 855,506.7 850,503.3 848.3,498.3 846.7,493.3 841.7,490"/>
<polygon fill="#FFF7C0" stroke="#FFF7C0" stroke-width="0.6" points="848.3,513.3 850,503.3 855,506.7 860,505 863.3,501.7 866.7,501.7 866.7,508.3 865,513.3 866.7,518.3 861.7,518.3 858.3,513.3 853.3,516.7"/>
<polygon fill="#FEAC3A" stroke="#FEAC3A" stroke-width="0.6" points="866.7,501.7 870,498.3 875,500 876.7,506.7 878.3,513.3 875,518.3 870,520 866.7,518.3 865,513.3 866.7,508.3"/>
<polygon fill="#FEAC3A" stroke="#FEAC3A" stroke-width="0.6" points="873.3,538.3 876.7,535 881.7,531.7 885,529.2 890,530.8 891.7,535 888.3,538.3 883.3,540 880,543.3 876.7,544.2"/>
<polygon fill="#FFF7C0" stroke="#FFF7C0" stroke-width="0.6" points="876.7,506.7 883.3,505 890,506.7 895,511.7 898.3,516.7 900,526.7 891.7,530 885,529.2 881.7,531.7 876.7,535 873.3,533.3 868.3,528.3 865,523.3 866.7,518.3 870,520 875,518.3 878.3,513.3"/>
<polygon fill="#FEE79B" stroke="#FEE79B" stroke-width="0.6" points="873.3,473.3 876.7,470 886.7,473.3 900,495 900,526.7 898.3,516.7 895,511.7 890,506.7 883.3,505 876.7,506.7 875,500 870,498.3 866.7,496.7 870,491.7 875,486.7 876.7,480"/>
<polygon fill="#FEE79B" stroke="#FEE79B" stroke-width="0.6" points="340,570 346.7,563.3 355,550 363.3,546.7 370,551.7 373.3,558.3 383.3,563.3 390,565 385,571.7 383.3,578.3 373.3,578.3 363.3,580 351.7,583.3 340,581.7"/>
<polygon fill="#FFFFE5" stroke="#FFFFE5" stroke-width="0.6" points="870,246.7 893.3,246.7 900,280 886.7,280 873.3,263.3"/>
<polygon fill="#FFFFE5" stroke="#FFFFE5" stroke-width="0.6" points="640,513.3 646.7,515 660,518.3 673.3,526.7 671.7,531.7 661.7,526.7 646.7,518.3 638.3,518.3"/>
<polygon fill="#FEE79B" stroke="#FEE79B" stroke-width="0.6" points="615,450 623.3,455 633.3,460 640,463.3 638.3,468.3 630,465 620,460 613.3,455"/>
</g>
<g fill="none" stroke="#4f4f4f" stroke-width="1.1" stroke-linejoin="round">
<polygon points="143.3,550 141.7,540 140,530 135,521.7 136.7,516.7 145,520 149.3,511.7 148.3,505 141.7,496.7 140,485 145,479.3 133.3,475 130,468.3 128.3,458.3 120,455 108.3,453.3 101.7,448.3 93.3,443.3 90,433.3 83.3,431.7 80,426.7 65,425 65,421.7 75,418.3 73.3,413.3 71.7,403.3 70,395 60,393.3 51.7,391.7 52.7,383.3 46.7,376.7 53.3,370 56.7,361.7 70,356.7 84,351.7 86.7,357.3 95,357.3 103.3,353.3 105,347.3 110,342.7 123.3,341.7 130,337.3 140,332.7 153.3,326.7 166,321.7 168.3,313.3 171.7,303.3 177.7,293.3 176.7,283.3 170,270 161.7,265 171.7,260 183.3,258.3 195,255 209.3,257.3 210,253.3 205,246.7 210,237.3 212.7,228.3 216.7,221.7 220,216.7 230,219.3 243.3,220.7 253.3,221.7 263.3,218.3 265,208.3 263.3,200 266.7,192.7 278.3,190 285,183.3 286.7,178.3 295,176.7 304,177.3 305.3,183.3 304,186 313.3,191.7 323.3,196.7 331.7,200.7 343.3,203.3 351,209.3 354,216.7 360,221.7 362.3,230 358.3,241.7 355,250 358.3,257.3 370,260 383.3,261.7 406.7,265 420,269.3 431.7,275 440,278.3 441.7,286.7 446.7,291.7 450,300 458.3,308.3 473.3,307.3 490,309.3 506.7,310.7 526.7,309.3 543.3,310.7 555,313.3 560,318.3 573.3,321.7 586.7,326 601.7,326.7 606.7,331 615,328.3 626.7,324 643.3,318.3 656.7,315 673.3,314.3 690,315 700,311.7 710,307.3 716.7,300 723.3,295 733.3,290 736.7,286.7 729.3,280 731.7,271.7 738.3,261.7 746.7,261.7 758.3,265 768.3,266.7 770,264 780,260 785,255 796.7,252.7 810,246.7 818.3,241.7 826.7,236.7 836.7,231.7 850,230 863.3,226.7 875,228.3 880,223.3 875,215 870,209.3 860,203.3 850,200 840,201.7 835,206 825,201.7 815,201.7 803.3,198.3 806.7,190 813.3,178.3 821.7,164 831.7,166 843.3,169.3 855,161.7 870,156.7 866.7,148.3 875,138.3 881.7,126.7 890,121.7 895,115 893.3,108.3 883.3,105 888.3,100 896.7,93.3 910,91.7 926.7,89.3 941.7,88.3 951.7,88.3 960,91.7 973.3,94.3 981.7,98.3 990,103.3 993.3,110 998.3,115 1000,121.7 1005,130 1008.3,135 1010,143.3 1015,151.7 1018.3,158.3 1021.7,166.7 1030,168.3 1038.3,167.3 1046.7,173.3 1053.3,173.3 1060,177.3 1071.7,183.3 1073.3,188.3 1071.7,193.3 1076.7,200 1076.7,205 1086.7,206.7 1106.7,203.3 1113.3,198.3 1126.7,195 1140,193.3 1151.7,191.7 1148.3,196.7 1143.3,201.7 1146.7,206.7 1141.7,211.7 1140,220 1131.7,230 1130,240 1123.3,250 1118.3,261.7 1106.7,259.3 1093.3,256.7 1081.7,263.3 1083.3,273.3 1085,283.3 1085,293.3 1081.7,303.3 1074,315 1073,310 1066,305 1060,304 1057,310 1050,315 1046,319 1040,321 1032,324 1029,330 1031,333 1024,336 1016,334 1010,333 1006,329 1001,332 998,336 992,341 988,345 984,347 978,350 972,354 966,359 960,364 956,369 948,369 942,371 936,373 930,377 924,380 918,383 912,385 908,388 903,390 902,386 909,383 911,380 904,378 904,374 908,371 912,366 917,360 922,355 919,351 915,347 908,346.4 902,348 897,351 894,356 888,359 882,362 876,365 871,369 868,375 862,380 856,385 851,381 847,380 843,383 840,388 837.6,391.6 840,395 844,399 850,402 858,403 864,404 868,409 864,413 863,418 867,421 872,423 878,421 880,416 886,412 892,409 896,408 900,410 906,414 912,416 920,415 926,418 930,419 929,424 926,428 920,428 914,428 908,432 902,435 896,438 891,442 888,446 885,450 880,454 876,458 873,462 870,466 868,470 873,474 880,478 887,480 890,488 893,495 897,502 899,506 900,514 906,519 912,525 917,532 918,539 920,543 915,545 911,541 906,538 904,540 912,546 918,550 919,556 914,555 908,554 904,556 909,561 915,567 918,574 919,582 918,587 914,588 915,594 912,600 909,604 906,607 902,610 903,614 898,618 894,622 891,628 888,630 884,634 880,638 877,644 876,652 878,658 873,662 868,665 864,670 860,676 854,680 848,683 845,689 840,693 834,700 828,702 824,706 818,710 812,713 806,716 800,717 794,720 788,718 784,722 780,725 776,728 772,726 770,720 768,724 766,730 760,734 755,738 752,740 748,738 744,736 740,738 734,740 728,742 722,743 716,746 711,749 707,753 710,758 713,763 712,766 704,768 700,767.6 698,760 697,753 699,748 698,743 692,743 686,743.6 680,740 674,741 668,742 662,740 656,739 650,736 645,733 642,728 641,723 643,718 644,715 638,713 630,711 623,709 622,705 618,704 612,708 608,714 600,717 595.8,716.7 593.3,720.8 588.3,720 584.2,716.7 578.3,722.5 573.3,720 566.7,717.5 560,722.5 552.5,723.3 550.8,728.3 553.3,735 555,740 555,748.3 550.8,749.2 545,748.3 544.2,743.3 542.5,737.5 538.3,739.2 533.3,741.7 528.3,742.5 523.3,736.7 521.7,731.7 513.3,730.8 508.3,728.3 510,720 512.5,715 513.3,710 505,708.3 503.3,705 501.7,698.3 500.8,693.3 498.3,689.2 488.3,690 481.7,693.3 478.3,692.5 480.8,686.7 479.2,683.3 480,675 482.5,668.3 486.7,663.3 491.7,658.3 495.8,655 497.5,651.7 499.2,645 499.7,633.3 500,620 498.3,610 495,600 490,603.3 483.3,598.3 476.7,600 475,608.3 470,613.3 460,606 448.3,605 440,608.3 430,613.3 421.7,621.7 413.3,630 396.7,631.7 381.7,632.7 380,623.3 371.7,616.7 366.7,609.3 353.3,606.7 340,605 330,613.3 326.7,623.3 323.3,620 320,609.3 306.7,611.7 293.3,612.7 281.7,608.3 271.7,610.7 266.7,604 256.7,603.3 250,596.7 241.7,591.7 238.3,583.3 230,585 220,576.7 210,570 201.7,563.3 193.3,560 185,568.3 183.3,563.3 173.3,560 163.3,555 156.7,547.3 146.7,548.3"/>
<polygon points="678,787 682,781 688,776 696,774 706,772 715,770 720,774 721,780 718,786 714,793 711,800 706,804 700,808 694,811 688,808 682,806 678,802 677,794"/>
<polygon points="909,664 914,666 918,671 916,678 915,686 912,696 909,706 906,714 902,720 899,726 898,733 896,734 893,730 892,724 888,720 885,716 883,710 883,702 885,695 888,689 892,682 896,675 900,669 904,666"/>
<g clip-path="url(#cn)">
<polyline points="145,479.3 161.7,477.3 169.3,460 180,458.3 191.7,461.7 203.3,454 212.7,452 217.3,457.3 230,459.3 243.3,456.7 251.7,453.3 263.3,451.7 275,444 293.3,440 316.7,436 328.3,439.3 333.3,445"/>
<polyline points="333.3,445 341.7,441.7 350,442.7 361.7,445 358.3,433.3 365,425 363.3,416.7 352.7,410 352.7,400 345,397.3 355,391.7 376.7,386 386,381.7 395,380"/>
<polyline points="333.3,445 335,456.7 340,470 338.3,486.7 345,498.3 360,505 376.7,508.3 396.7,513.3 416.7,516.7 430,511.7"/>
<polyline points="386.7,381.7 391.7,366.7 395,353.3 406.7,348.3 413.3,343.3 423.3,333.3 438.3,328.3 451.7,324 450,313.3 458.3,308.3"/>
<polyline points="386.7,381.7 396.7,385 411.7,388.3 423.3,396.7 440,398.3 453.3,401.7 461.7,396.7 469.3,393.3 471.7,381.7 476.7,380 490,381.7 500,380 508.3,378.3 513.3,385 523.3,393.3 533.3,400 543.3,406.7 553.3,413.3 561.7,421.7 568.3,428.3 571.7,433.3 576.7,440 573.3,446.7 570,456.7 563.3,463.3 560,470 565,476.7 560,481.7 553.3,483.3 543.3,480 538.3,483.3 543.3,490 551.7,493.3 558.3,500 550,503.3"/>
<polyline points="632,384 637,379 643,378 647,381 648,386 645,392 641,398 646,399 654,402 659,408 655,414 654,420 648,422 642,423 640,428 639,436 642,444 646,448 644,452 640,452 638,460 634,456 628,454 622,450 619,444 620,440 616,430 608,422 605,418 608,413 614,410 622,408 626,402 626,394 629,388 632,384"/>
<polyline points="560,382 568,380 576,383 584,378 595,376 598,382 593,388 588,394 584,402 584,408 590,412 600,417 605,418"/>
<polyline points="659,408 666,409 669,412.4 680,411 681,405 684,400 689,394 694,388 700,382 706,376.4 712,378 720,375 724,376"/>
<polyline points="724,376 730,372 736,368 741,363 744,359 750,361 758,357 768,355 776,352 777,352"/>
<polyline points="724,376 722,380 720,386 718,392 714,398 712,404 714,410 711,420 710,428 711,442 711,450 712,458 708,466 707,475"/>
<polyline points="777,352 780,359 775,365 780,368 782,376 780,383 774,383 772,388 768,393 772,402 776,412 772,420 769,428 766,433 768,440 766,447 767,452"/>
<polyline points="707,475 712,474 720,471 730,467 738,464 746,462 754,461 762,458 767,452"/>
<polyline points="777,352 775,347 771,341 773,333 777,329 780,323 788,320 790,324 800,327"/>
<polyline points="659,408 655,414 654,420 656,426 660,430 665,430 670,433 675,436 679,440 678,446 678,456 675,460 669,462 664,466 658,468 650,466 644,464 640,466 639,470 637,476 639,482 640,488 638,494 628,496 629,505"/>
<polyline points="707,475 708,478 712,484 718,494 720,500 714,503 704,505 700,507 704,512 698,516 692,520 690,530"/>
<polyline points="620,510 629,505 636,510 644,512 650,514 656,518 664,516 668,522 672,530"/>
<polyline points="910,91.7 913.3,96.7 905,106.7 916.7,110 928.3,113.3 933.3,130 941.7,133.3 960,131.7 973.3,126.7 980,128.3 990,140"/>
<polyline points="990,140 987.5,145 977.5,155 975,165 976.2,172.5 968.8,178.8 966.2,186.2 962.5,198.8 960,191.2 952.5,197.5 942.5,203.8 933.8,208.8 926.2,213.8 928.8,217.5 933.8,221.2 937.5,225 935,231.2 938.8,236.2 933.8,237.5 932.5,242.5 926.2,246.2 921.2,242.5 912.5,245 916.2,250 920,255 918.8,262.5 920,270 923.8,277.5 930,276.2 938.8,273.8 942.5,280 947.5,282.5 943.8,287.5 947.5,292.5 946.2,300"/>
<polyline points="938.8,236.2 946.2,236.2 950,232.5 953.8,238.8 956.2,247.5 965,252.5 975,253.8 985,252.5 992.5,257.5 1000,257.5 1007.5,261.2 1010,267.5 1016.2,270 1020,276.2 1025,281.2 1028.8,280 1032.5,275 1036.2,282.5 1040,290 1045,292.5 1052.5,287.5 1060,283.8 1067.5,285 1073.8,290 1081.2,292.5 1085,293.8"/>
<polyline points="933.8,221.2 937.5,225 946.2,221.2 948.8,222.5 950,228.8 950,232.5"/>
<polyline points="946.2,300 955,297.5 962.5,302.5 967.5,298.8 971.2,305 976.2,310 980,313.8 976.2,320 980,330 985,338.8 983.8,346.2"/>
<polyline points="800,327 806,327 816,322 826,320 828,314 840,311 846,314 848,322 852,327 850,334 856,338 864,337 866,342"/>
<polyline points="866,342 862,346 868,352 874,354 878,363"/>
<polyline points="866,342 872,334 870,328 869,320 873,316 878,320 882,327 888,322 896,318 900,320 904,316 912,312 920,309 928,307 934,305 940,303 946,300"/>
<polyline points="806,354 814,350 820,344 826,346 832,352 834,359 835,364 829,365 826,370 824,374 818,375 814,373 808,374 803,372 800,369 802,365 808,359 806,354"/>
<polyline points="835,364 840,360 842,365 840,370 844,376 845,382"/>
<polyline points="824,374 826,378 824,382 824,390 830,392 836,394 840,392 840,388"/>
<polyline points="844,399 838,404 830,408 824,410 818,414 814,418 808,422 806,426 800,429 799,434 798,442 800,448"/>
<polyline points="766,439 772,440 780,438 788,439 796,440 799,441"/>
<polyline points="800,448 801,452 798,458 794,460 790,464 792,468 798,470 802,474 808,477 814,474"/>
<polyline points="814,474 818,469 824,468 826,476 830,480 834,478 836,474 842,470 848,474 852,476 858,472 860,466 866,468 870,464"/>
<polyline points="814,474 818,478 820,484"/>
<polyline points="820,484 824,490 830,492 836,496 840,500 846,498 848,502 849,507"/>
<polyline points="720.8,502.5 725,508.3 730,513.3 735,516.7 741.7,520 748.3,520.8 755,519.2 761.7,520 768.3,520 770,525 773.3,530 778.3,533.3 783.3,536.7 788.3,535.8 795,537.5 800,540 805,543.3 808.3,546.7 810.8,550"/>
<polyline points="820,485 816.7,488.3 813.3,490 808.3,486.7 803.3,485.8 801.7,490 798.3,496.7 793.3,501.7 790.8,506.7 792.5,511.7 795.8,515 800,516.7 806.7,518.3 809.2,523.3 808.3,528.3 806.7,533.3 800,536.7 800,540"/>
<polyline points="810.8,550 806.7,555 808.3,561.7 810.8,568.3 811.7,571.7 815,568.3 820,570 824.2,568.3 823.3,571.7 822.5,575.8"/>
<polyline points="840,540 842.5,536.7 846.7,543.3 850,540 855,538.3 860,540 858.3,542.5 865,543.3 870,545 875,546.7 872.5,551.7 870,556.7 866.7,561.7"/>
<polyline points="848.3,513.3 853.3,516.7 858.3,513.3 861.7,518.3 866.7,518.3 865,523.3 868.3,528.3 873.3,533.3 871.7,538.3 875,546.7"/>
<polyline points="702,504 694,506 694,512 695,520 697,526 700,532 703,536 706,540 710,546 710,552 707,558 708,564 711,570"/>
<polyline points="711,570 714,568 722,569 730,571 736,574 742,576 746,579 750,576 756,577 764,576 768,574 770,580 772,584 774,588 778,594 778,600 776,606 770,612 768,618 773,622 774,628 772,634 774,640 778,647 774,650 773,658 770,662 762,660 757,663 756,670 751,668 746,669 740,672 738,680 734,678 730,674 728,670 724,674 720,670 722,664 726,658 728,652 724,648 720,644 714,644 710,648 706,650 702,646 696,644 692,640 694,634 692,628 684,628 688,622 692,618 690,612 690,606 689,600 690,594 688,588 691,582 692,577 698,574 704,574 711,570"/>
<polyline points="772,584 776,580 782,578 788,576 792,576 800,572 804,571 810,568 816,569 822,568 824,574 828,572 834,571 838,576 842,579 848,582 846,588 850,594 854,600 856,604 850,607 842,610 836,614 832,618 829,624 824,630 820,636 821,644 818,648 814,652 812,658 810,664 808,670 808,674 802,674 798,676 792,678 786,676 780,680 778,674 780,668 784,666 788,664 782,662 778,664 773,658 774,650 778,647 774,640 772,634 774,628 773,622 768,618 770,612 776,606 778,600 778,594 774,588 772,584"/>
<polyline points="848,582 852,578 856,573 860,568 864,562 868,558 872,554 875,548 878,545 884,546 890,549 895,551 900,552 906,556 912,558"/>
<polyline points="900,552 904,548 906,542 902,540"/>
<polyline points="856,604 860,604 862,612 864,619 870,620 877,620 876,628 880,638 888,640"/>
<polyline points="808,674 812,672 818,674 824,678 826,686 828,694 832,702"/>
<polyline points="738,680 738,686 736,692 732,700 730,708 728,714 724,718 726,730 720,734 718,740"/>
<polyline points="680,526 686,530 690,534 696,526"/>
<polyline points="692,577 686,576 680,577"/>
<polyline points="477,490 480,498 479,504 477,512 482,517 490,519 494,524 498,532 497,540 500,544 502,552 505,564 504,576 507,586 508,596 510,604"/>
<polyline points="477,490 484,483 494,486 498,496 502,502 510,510 518,508 524,514 534,516 540,512 542,504 548,501 554,502 558,496 564,499 562,490 568,486 576,483 580,490 588,493 596,498 600,504 599,509 603,515 608,516 616,514 624,512 632,514 640,518 646,514 652,518 658,522 662,526 668,530 673,534 678,528 684,526 692,530 700,534"/>
<polyline points="510,604 512,598 516,593 520,598 524,604 528,608 534,611 537,616 540,622 544,628 547,633 550,638 554,644 558,648 560,640 563,634 564,628 575,628 578,636 583,632 588,626"/>
<polyline points="588,626 592,622 598,623 604,622 610,620 616,616 620,612 628,614 635,613"/>
<polyline points="635,613 636,608 630,602 626,600 624,598 618,596 616,588 618,580 620,574 624,568 626,560 630,558 636,554 642,553 648,556 652,558 656,552 662,550 666,546 670,540 673,534"/>
<polyline points="626,600 630,598 636,596 640,598 646,596 652,594 656,589 660,586 664,589 670,588 674,592 678,598 682,604 686,602 689,596 690,586 688,578 682,576 677,572 675,564 678,558 686,556 694,554 700,556"/>
<polyline points="588,626 590,630 588,634 592,638 596,640 600,638 602,646 603,654 606,660 609,666 604,672 606,676 604,678"/>
<polyline points="604,678 610,680 614,677 620,678 626,676 630,672 636,670 638,664 642,664 648,666 652,662 658,660 664,662 668,666 674,664 680,662 684,656 690,654 696,652"/>
<polyline points="604,678 610,680 614,686 620,688 628,690 632,696 628,702 622,706 616,704"/>
<polyline points="380,510.7 393.3,513.3 406.7,515 420,513.3 433.3,516.7 440,523.3 441.7,531.7 451.7,533.3 460,530 468.3,526.7 475,518.3 480,516.7"/>
</g>
<polyline points="915,740 902.7,756"/>
<polyline points="882.7,791.7 877.3,803.3 872.3,814"/>
<polyline points="863.3,936.7 860,950 855.7,959.3"/>
<polyline points="814,1018.3 801.7,1035"/>
<polyline points="753.3,1105 734.3,1111.7"/>
<polyline points="670.7,1036.7 670,1046.7 672.3,1059.3"/>
<polyline points="708.3,930.7 707.7,941.7 703.3,952.3"/>
<polyline points="689.3,850 696.7,861.7 700,872.7"/>
<polyline points="932,679 927,702"/>
</g>
<g fill="none" stroke="#5a5a5a" stroke-width="2">
<polyline points="865,853.3 865,875"/>
</g>
<polygon fill="#D9D9D9" stroke="#5a5a5a" stroke-width="0.8" points="771.7,1026.7 776.7,1021.7 781.7,1018.3 785,1019.3 781.7,1024 776.7,1027.3"/>
<g fill="none" stroke="#555" stroke-width="1">
<circle cx="810.0" cy="752.7" r="0.8"/>
<circle cx="825.0" cy="759.3" r="0.8"/>
<circle cx="756.7" cy="783.3" r="0.8"/>
<circle cx="771.7" cy="789.3" r="0.8"/>
<circle cx="729.3" cy="832.7" r="0.8"/>
<circle cx="743.3" cy="836.0" r="0.8"/>
<circle cx="731.7" cy="845.0" r="0.8"/>
<circle cx="738.3" cy="848.3" r="0.8"/>
<circle cx="747.3" cy="847.3" r="0.8"/>
<circle cx="733.3" cy="852.7" r="0.8"/>
<circle cx="748.3" cy="854.0" r="0.8"/>
<circle cx="741.7" cy="860.0" r="0.8"/>
<circle cx="775.0" cy="856.0" r="0.8"/>
<circle cx="781.7" cy="853.3" r="0.8"/>
<circle cx="788.3" cy="855.0" r="0.8"/>
<circle cx="773.3" cy="864.0" r="0.8"/>
<circle cx="783.3" cy="862.7" r="0.8"/>
<circle cx="822.7" cy="847.7" r="0.8"/>
<circle cx="841.7" cy="871.7" r="0.8"/>
<circle cx="799.3" cy="896.7" r="0.8"/>
<circle cx="785.7" cy="947.3" r="0.8"/>
<circle cx="823.3" cy="947.3" r="0.8"/>
<circle cx="776.7" cy="958.3" r="0.8"/>
<circle cx="783.3" cy="960.0" r="0.8"/>
<circle cx="790.0" cy="956.7" r="0.8"/>
<circle cx="833.3" cy="956.0" r="0.8"/>
<circle cx="841.7" cy="960.0" r="0.8"/>
<circle cx="766.7" cy="971.7" r="0.8"/>
<circle cx="778.3" cy="970.0" r="0.8"/>
<circle cx="786.7" cy="978.3" r="0.8"/>
<circle cx="806.7" cy="968.3" r="0.8"/>
<circle cx="821.7" cy="969.3" r="0.8"/>
<circle cx="835.0" cy="964.0" r="0.8"/>
<circle cx="833.3" cy="975.0" r="0.8"/>
<circle cx="798.3" cy="975.0" r="0.8"/>
<circle cx="810.0" cy="975.0" r="0.8"/>
<circle cx="801.7" cy="981.7" r="0.8"/>
<circle cx="813.3" cy="986.7" r="0.8"/>
<circle cx="776.7" cy="989.3" r="0.8"/>
<circle cx="800.0" cy="990.0" r="0.8"/>
<circle cx="820.0" cy="985.0" r="0.8"/>
<circle cx="823.3" cy="996.7" r="0.8"/>
<circle cx="815.0" cy="1000.0" r="0.8"/>
<circle cx="768.3" cy="996.7" r="0.8"/>
<circle cx="775.0" cy="1001.7" r="0.8"/>
<circle cx="785.0" cy="1000.0" r="0.8"/>
<circle cx="796.7" cy="1008.3" r="0.8"/>
<circle cx="801.7" cy="1006.7" r="0.8"/>
<circle cx="747.3" cy="986.7" r="0.8"/>
<circle cx="743.3" cy="1000.0" r="0.8"/>
<circle cx="751.7" cy="1000.0" r="0.8"/>
<circle cx="728.3" cy="1006.7" r="0.8"/>
<circle cx="736.7" cy="1016.7" r="0.8"/>
<circle cx="731.7" cy="1023.3" r="0.8"/>
<circle cx="711.7" cy="1016.7" r="0.8"/>
<circle cx="701.7" cy="1021.7" r="0.8"/>
<circle cx="693.3" cy="1030.7" r="0.8"/>
<circle cx="761.7" cy="1015.0" r="0.8"/>
<circle cx="755.0" cy="1020.0" r="0.8"/>
<circle cx="786.7" cy="1016.7" r="0.8"/>
<circle cx="791.7" cy="1028.3" r="0.8"/>
<circle cx="788.3" cy="1033.3" r="0.8"/>
<circle cx="766.7" cy="1040.0" r="0.8"/>
<circle cx="760.0" cy="1052.7" r="0.8"/>
<circle cx="748.3" cy="1060.7" r="0.8"/>
<circle cx="746.7" cy="1068.3" r="0.8"/>
<circle cx="751.7" cy="1077.3" r="0.8"/>
<circle cx="740.0" cy="1101.7" r="0.8"/>
<circle cx="920.0" cy="563.0" r="0.8"/>
<circle cx="923.0" cy="565.0" r="0.8"/>
<circle cx="921.0" cy="568.0" r="0.8"/>
<circle cx="924.0" cy="569.0" r="0.8"/>
<circle cx="920.0" cy="571.0" r="0.8"/>
<circle cx="922.4" cy="572.4" r="0.8"/>
<circle cx="925.0" cy="566.0" r="0.8"/>
<circle cx="918.0" cy="569.0" r="0.8"/>
<circle cx="926.0" cy="560.0" r="0.8"/>
<circle cx="932.0" cy="554.4" r="0.8"/>
<circle cx="932.0" cy="566.0" r="0.8"/>
<circle cx="915.0" cy="600.0" r="0.8"/>
<circle cx="903.0" cy="612.0" r="0.8"/>
<circle cx="882.0" cy="638.0" r="0.8"/>
<circle cx="878.0" cy="637.0" r="0.8"/>
<circle cx="880.0" cy="646.0" r="0.8"/>
<circle cx="874.0" cy="660.0" r="0.8"/>
<circle cx="869.0" cy="663.0" r="0.8"/>
<circle cx="866.0" cy="668.0" r="0.8"/>
<circle cx="854.0" cy="681.0" r="0.8"/>
<circle cx="850.0" cy="682.0" r="0.8"/>
<circle cx="829.0" cy="702.4" r="0.8"/>
<circle cx="874.0" cy="699.6" r="0.8"/>
<circle cx="872.0" cy="707.0" r="0.8"/>
<circle cx="944.0" cy="655.0" r="0.8"/>
<circle cx="948.0" cy="652.0" r="0.8"/>
<circle cx="964.0" cy="652.0" r="0.8"/>
<circle cx="920.0" cy="660.0" r="0.8"/>
<circle cx="909.0" cy="719.0" r="0.8"/>
<circle cx="910.0" cy="731.0" r="0.8"/>
<circle cx="778.0" cy="722.0" r="0.8"/>
<circle cx="774.0" cy="726.0" r="0.8"/>
<circle cx="898.0" cy="398.0" r="0.8"/>
<circle cx="894.4" cy="405.0" r="0.8"/>
<circle cx="896.0" cy="402.0" r="0.8"/>
<circle cx="924.0" cy="380.0" r="0.8"/>
<circle cx="928.0" cy="379.6" r="0.8"/>
<circle cx="931.0" cy="381.0" r="0.8"/>
<circle cx="932.0" cy="384.0" r="0.8"/>
<circle cx="939.0" cy="383.6" r="0.8"/>
<circle cx="934.0" cy="376.0" r="0.8"/>
<circle cx="886.0" cy="448.0" r="0.8"/>
<circle cx="887.6" cy="443.0" r="0.8"/>
<circle cx="916.0" cy="428.0" r="0.8"/>
<circle cx="686.0" cy="752.0" r="0.8"/>
<circle cx="809.6" cy="752.4" r="0.8"/>
<circle cx="825.0" cy="759.0" r="0.8"/>
<circle cx="756.0" cy="783.0" r="0.8"/>
<circle cx="771.4" cy="789.0" r="0.8"/>
<circle cx="778.0" cy="732.0" r="0.8"/>
<circle cx="774.0" cy="726.0" r="0.8"/>
<circle cx="750.0" cy="740.0" r="0.8"/>
<circle cx="723.0" cy="774.0" r="0.8"/>
</g>
</svg>
<div class="frame"></div>
<div class="title"><span class="cj">父系：</span> O-Z26248 (<span class="cj">含下游</span>)</div>
<div class="lt">相对占比</div>
<div class="sw" style="top:805px;height:34px;background:#FFFFE5"></div>
<div class="ll" style="top:805.0px">0.11% - 0.51%</div>
<div class="sw" style="top:839px;height:34px;background:#FFF7C0"></div>
<div class="ll" style="top:838.6px">0.51% - 0.81%</div>
<div class="sw" style="top:873px;height:33px;background:#FEE79B"></div>
<div class="ll" style="top:872.2px">0.81% - 1.07%</div>
<div class="sw" style="top:906px;height:34px;background:#FECE65"></div>
<div class="ll" style="top:905.8px">1.07% - 1.33%</div>
<div class="sw" style="top:940px;height:34px;background:#FEAC3A"></div>
<div class="ll" style="top:939.4px">1.33% - 1.67%</div>
<div class="sw" style="top:974px;height:33px;background:#F5861F"></div>
<div class="ll" style="top:973.0px">1.67% - 2.11%</div>
<div class="sw" style="top:1007px;height:34px;background:#E1640E"></div>
<div class="ll" style="top:1006.6px">2.11% - 2.69%</div>
<div class="sw" style="top:1041px;height:33px;background:#C04602"></div>
<div class="ll" style="top:1040.2px">2.69% - 3.48%</div>
<div class="sw" style="top:1074px;height:34px;background:#933204"></div>
<div class="ll" style="top:1073.8px">3.48% - 4.36%</div>
<div class="sw" style="top:1108px;height:33px;background:#662506"></div>
<div class="ll" style="top:1107.4px">4.36% - 20.00%</div>
<div class="au"><span class="cj">作者</span>:O1a<span class="cj">溯源群</span></div>
</body></html>
